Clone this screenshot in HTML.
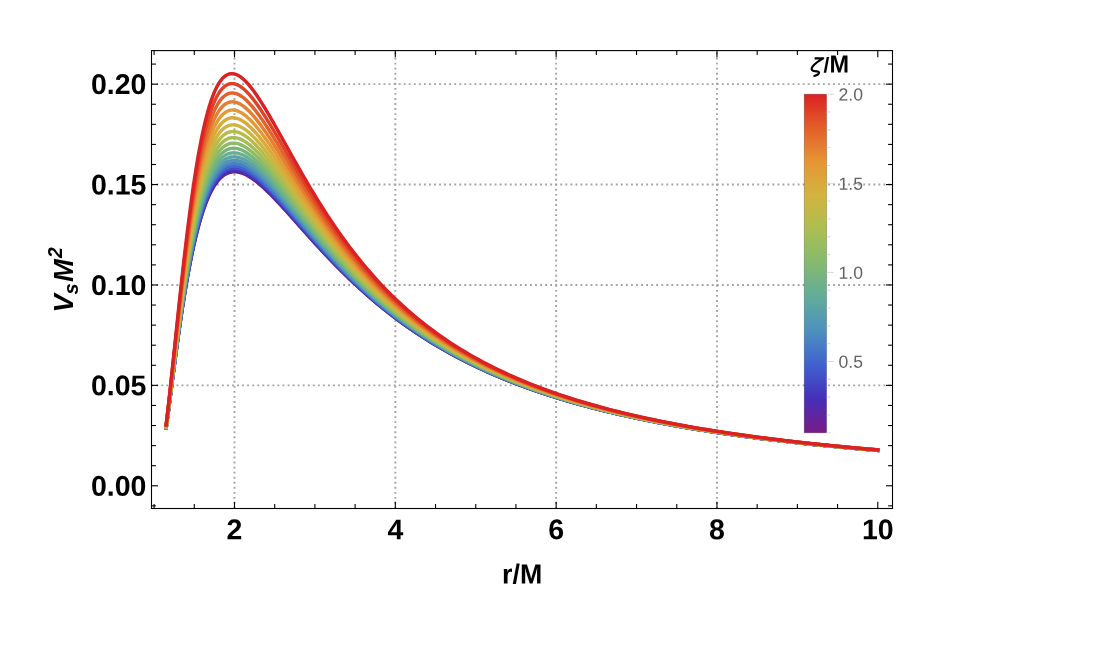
<!DOCTYPE html>
<html><head><meta charset="utf-8"><title>Vs M^2 vs r/M</title>
<style>
html,body{margin:0;padding:0;background:#fff;}
body{width:1096px;height:645px;overflow:hidden;font-family:"Liberation Sans",sans-serif;}
svg{display:block;will-change:transform;}
text{font-family:"Liberation Sans",sans-serif;}
.b{font-weight:bold;}
.bi{font-weight:bold;font-style:italic;}
.r{font-weight:normal;}
</style></head>
<body>
<svg width="1096" height="645" viewBox="0 0 1096 645">
<rect width="1096" height="645" fill="#fff"/>
<g stroke="#a4a4a4" stroke-width="1.9" stroke-dasharray="1.9 3.15" fill="none"><line x1="234.50" y1="508.95" x2="234.50" y2="50.6"/><line x1="395.32" y1="508.95" x2="395.32" y2="50.6"/><line x1="556.14" y1="508.95" x2="556.14" y2="50.6"/><line x1="716.96" y1="508.95" x2="716.96" y2="50.6"/><line x1="151.23" y1="385.37" x2="892.5" y2="385.37"/><line x1="151.23" y1="284.97" x2="892.5" y2="284.97"/><line x1="151.23" y1="184.57" x2="892.5" y2="184.57"/><line x1="151.23" y1="84.17" x2="892.5" y2="84.17"/></g>
<g fill="none" stroke-width="3.4" stroke-linecap="square" stroke-linejoin="round"><path d="M166.15 428.24 L167.34 419.32 L168.53 410.24 L169.72 401.05 L170.91 391.82 L172.09 382.60 L173.28 373.44 L174.47 364.36 L175.66 355.40 L176.85 346.60 L178.04 337.97 L179.22 329.53 L180.41 321.30 L181.60 313.29 L182.79 305.52 L183.98 297.99 L185.17 290.71 L186.36 283.68 L187.54 276.90 L188.73 270.38 L189.92 264.11 L191.11 258.10 L192.30 252.34 L193.49 246.83 L194.67 241.57 L195.86 236.55 L197.05 231.77 L198.24 227.23 L199.43 222.91 L200.62 218.81 L201.80 214.93 L202.99 211.27 L204.18 207.81 L205.37 204.55 L206.56 201.48 L207.75 198.60 L208.94 195.91 L210.12 193.39 L211.31 191.04 L212.50 188.86 L213.69 186.83 L214.88 184.96 L216.07 183.24 L217.25 181.66 L218.44 180.22 L219.63 178.90 L220.82 177.72 L222.01 176.66 L223.20 175.72 L224.39 174.88 L225.57 174.16 L226.76 173.54 L227.95 173.03 L229.14 172.60 L230.33 172.27 L231.52 172.03 L232.70 171.87 L233.89 171.79 L235.08 171.79 L236.27 171.87 L237.46 172.01 L238.65 172.22 L239.84 172.50 L241.02 172.84 L242.21 173.23 L243.40 173.69 L244.59 174.19 L245.78 174.75 L246.97 175.36 L248.15 176.01 L249.34 176.70 L250.53 177.44 L251.72 178.22 L252.91 179.04 L254.10 179.89 L255.29 180.77 L256.47 181.69 L257.66 182.64 L258.85 183.62 L260.04 184.62 L261.23 185.65 L262.42 186.71 L263.60 187.79 L264.79 188.89 L265.98 190.01 L267.17 191.15 L268.36 192.31 L269.55 193.48 L270.74 194.67 L271.92 195.88 L273.11 197.10 L274.30 198.33 L275.49 199.57 L276.68 200.83 L277.87 202.09 L279.05 203.37 L280.24 204.65 L281.43 205.94 L282.62 207.24 L283.81 208.54 L285.00 209.85 L286.18 211.17 L287.37 212.48 L288.56 213.81 L289.75 215.14 L290.94 216.47 L292.13 217.80 L293.32 219.13 L294.50 220.47 L295.69 221.80 L296.88 223.14 L298.07 224.48 L299.26 225.82 L300.45 227.15 L301.63 228.49 L302.82 229.82 L304.01 231.15 L305.20 232.49 L306.39 233.81 L307.58 235.14 L308.77 236.47 L309.95 237.79 L311.14 239.10 L312.33 240.42 L313.52 241.73 L314.71 243.04 L315.90 244.34 L317.08 245.64 L318.27 246.93 L319.46 248.22 L320.65 249.51 L321.84 250.79 L323.03 252.06 L324.22 253.33 L325.40 254.60 L326.59 255.86 L327.78 257.11 L328.97 258.36 L330.16 259.60 L331.35 260.84 L332.53 262.07 L333.72 263.30 L334.91 264.52 L336.10 265.73 L337.29 266.94 L338.48 268.14 L339.67 269.34 L340.85 270.53 L342.04 271.71 L343.23 272.89 L344.42 274.06 L345.61 275.22 L346.80 276.38 L347.98 277.53 L349.17 278.67 L350.36 279.81 L351.55 280.94 L352.74 282.06 L353.93 283.18 L355.12 284.29 L359.51 288.34 L363.90 292.30 L368.29 296.17 L372.68 299.95 L377.08 303.65 L381.47 307.25 L385.86 310.77 L390.25 314.20 L394.64 317.55 L399.04 320.82 L403.43 324.01 L407.82 327.12 L412.21 330.15 L416.61 333.11 L421.00 335.99 L425.39 338.80 L429.78 341.55 L434.17 344.22 L438.57 346.83 L442.96 349.37 L447.35 351.85 L451.74 354.27 L456.13 356.64 L460.53 358.94 L464.92 361.19 L469.31 363.38 L473.70 365.52 L478.09 367.61 L482.49 369.64 L486.88 371.63 L491.27 373.58 L495.66 375.47 L500.06 377.32 L504.45 379.13 L508.84 380.90 L513.23 382.62 L517.62 384.30 L522.02 385.95 L526.41 387.56 L530.80 389.13 L535.19 390.67 L539.59 392.17 L543.98 393.63 L548.37 395.07 L552.76 396.47 L557.15 397.84 L561.55 399.19 L565.94 400.50 L570.33 401.78 L574.72 403.04 L579.11 404.27 L583.51 405.47 L587.90 406.65 L592.29 407.80 L596.68 408.93 L601.08 410.04 L605.47 411.12 L609.86 412.18 L614.25 413.22 L618.64 414.24 L623.04 415.23 L627.43 416.21 L631.82 417.17 L636.21 418.10 L640.60 419.02 L645.00 419.93 L649.39 420.81 L653.78 421.68 L658.17 422.52 L662.57 423.36 L666.96 424.18 L671.35 424.98 L675.74 425.76 L680.13 426.54 L684.53 427.29 L688.92 428.04 L693.31 428.76 L697.70 429.48 L702.09 430.18 L706.49 430.87 L710.88 431.55 L715.27 432.22 L719.66 432.87 L724.05 433.51 L728.45 434.14 L732.84 434.76 L737.23 435.37 L741.62 435.97 L746.02 436.55 L750.41 437.13 L754.80 437.70 L759.19 438.26 L763.58 438.80 L767.98 439.34 L772.37 439.87 L776.76 440.39 L781.15 440.91 L785.54 441.41 L789.94 441.90 L794.33 442.39 L798.72 442.87 L803.11 443.34 L807.51 443.81 L811.90 444.26 L816.29 444.71 L820.68 445.15 L825.07 445.59 L829.47 446.02 L833.86 446.44 L838.25 446.85 L842.64 447.26 L847.03 447.66 L851.43 448.06 L855.82 448.45 L860.21 448.83 L864.60 449.21 L869.00 449.58 L873.39 449.95 L877.78 450.31" stroke="#781c86"/><path d="M166.15 428.21 L167.34 419.29 L168.53 410.19 L169.72 401.00 L170.91 391.75 L172.09 382.52 L173.28 373.34 L174.47 364.24 L175.66 355.27 L176.85 346.44 L178.04 337.79 L179.22 329.33 L180.41 321.08 L181.60 313.06 L182.79 305.26 L183.98 297.71 L185.17 290.41 L186.36 283.35 L187.54 276.56 L188.73 270.01 L189.92 263.73 L191.11 257.70 L192.30 251.92 L193.49 246.39 L194.67 241.11 L195.86 236.07 L197.05 231.27 L198.24 226.71 L199.43 222.38 L200.62 218.27 L201.80 214.37 L202.99 210.69 L204.18 207.22 L205.37 203.95 L206.56 200.87 L207.75 197.98 L208.94 195.27 L210.12 192.75 L211.31 190.39 L212.50 188.20 L213.69 186.16 L214.88 184.29 L216.07 182.56 L217.25 180.97 L218.44 179.52 L219.63 178.21 L220.82 177.02 L222.01 175.96 L223.20 175.01 L224.39 174.18 L225.57 173.45 L226.76 172.83 L227.95 172.32 L229.14 171.89 L230.33 171.56 L231.52 171.32 L232.70 171.16 L233.89 171.09 L235.08 171.09 L236.27 171.16 L237.46 171.31 L238.65 171.53 L239.84 171.80 L241.02 172.15 L242.21 172.55 L243.40 173.00 L244.59 173.51 L245.78 174.07 L246.97 174.68 L248.15 175.34 L249.34 176.04 L250.53 176.78 L251.72 177.57 L252.91 178.39 L254.10 179.24 L255.29 180.14 L256.47 181.06 L257.66 182.01 L258.85 183.00 L260.04 184.01 L261.23 185.04 L262.42 186.10 L263.60 187.19 L264.79 188.29 L265.98 189.42 L267.17 190.57 L268.36 191.73 L269.55 192.91 L270.74 194.11 L271.92 195.32 L273.11 196.54 L274.30 197.78 L275.49 199.03 L276.68 200.29 L277.87 201.56 L279.05 202.84 L280.24 204.13 L281.43 205.43 L282.62 206.73 L283.81 208.04 L285.00 209.36 L286.18 210.68 L287.37 212.00 L288.56 213.33 L289.75 214.67 L290.94 216.00 L292.13 217.34 L293.32 218.68 L294.50 220.02 L295.69 221.36 L296.88 222.70 L298.07 224.05 L299.26 225.39 L300.45 226.73 L301.63 228.07 L302.82 229.41 L304.01 230.75 L305.20 232.09 L306.39 233.42 L307.58 234.75 L308.77 236.08 L309.95 237.41 L311.14 238.73 L312.33 240.05 L313.52 241.36 L314.71 242.68 L315.90 243.98 L317.08 245.29 L318.27 246.59 L319.46 247.88 L320.65 249.17 L321.84 250.45 L323.03 251.73 L324.22 253.01 L325.40 254.28 L326.59 255.54 L327.78 256.80 L328.97 258.05 L330.16 259.30 L331.35 260.54 L332.53 261.78 L333.72 263.01 L334.91 264.23 L336.10 265.45 L337.29 266.66 L338.48 267.87 L339.67 269.06 L340.85 270.26 L342.04 271.44 L343.23 272.62 L344.42 273.80 L345.61 274.96 L346.80 276.12 L347.98 277.28 L349.17 278.43 L350.36 279.57 L351.55 280.70 L352.74 281.83 L353.93 282.95 L355.12 284.06 L359.51 288.12 L363.90 292.09 L368.29 295.97 L372.68 299.76 L377.08 303.47 L381.47 307.08 L385.86 310.60 L390.25 314.05 L394.64 317.40 L399.04 320.68 L403.43 323.87 L407.82 326.99 L412.21 330.02 L416.61 332.99 L421.00 335.88 L425.39 338.69 L429.78 341.44 L434.17 344.12 L438.57 346.73 L442.96 349.28 L447.35 351.77 L451.74 354.19 L456.13 356.56 L460.53 358.86 L464.92 361.11 L469.31 363.31 L473.70 365.45 L478.09 367.54 L482.49 369.58 L486.88 371.57 L491.27 373.52 L495.66 375.42 L500.06 377.27 L504.45 379.08 L508.84 380.85 L513.23 382.57 L517.62 384.26 L522.02 385.91 L526.41 387.52 L530.80 389.09 L535.19 390.63 L539.59 392.13 L543.98 393.60 L548.37 395.03 L552.76 396.44 L557.15 397.81 L561.55 399.16 L565.94 400.47 L570.33 401.75 L574.72 403.01 L579.11 404.24 L583.51 405.45 L587.90 406.63 L592.29 407.78 L596.68 408.91 L601.08 410.02 L605.47 411.10 L609.86 412.16 L614.25 413.20 L618.64 414.22 L623.04 415.21 L627.43 416.19 L631.82 417.15 L636.21 418.09 L640.60 419.01 L645.00 419.91 L649.39 420.79 L653.78 421.66 L658.17 422.51 L662.57 423.34 L666.96 424.16 L671.35 424.96 L675.74 425.75 L680.13 426.52 L684.53 427.28 L688.92 428.02 L693.31 428.75 L697.70 429.47 L702.09 430.17 L706.49 430.86 L710.88 431.54 L715.27 432.21 L719.66 432.86 L724.05 433.50 L728.45 434.13 L732.84 434.75 L737.23 435.36 L741.62 435.96 L746.02 436.55 L750.41 437.12 L754.80 437.69 L759.19 438.25 L763.58 438.80 L767.98 439.34 L772.37 439.87 L776.76 440.39 L781.15 440.90 L785.54 441.40 L789.94 441.90 L794.33 442.39 L798.72 442.87 L803.11 443.34 L807.51 443.80 L811.90 444.26 L816.29 444.71 L820.68 445.15 L825.07 445.58 L829.47 446.01 L833.86 446.43 L838.25 446.85 L842.64 447.26 L847.03 447.66 L851.43 448.06 L855.82 448.45 L860.21 448.83 L864.60 449.21 L869.00 449.58 L873.39 449.95 L877.78 450.31" stroke="#5e26a1"/><path d="M166.15 428.17 L167.34 419.23 L168.53 410.12 L169.72 400.90 L170.91 391.64 L172.09 382.38 L173.28 373.17 L174.47 364.04 L175.66 355.04 L176.85 346.19 L178.04 337.50 L179.22 329.01 L180.41 320.73 L181.60 312.66 L182.79 304.83 L183.98 297.25 L185.17 289.91 L186.36 282.82 L187.54 275.98 L188.73 269.41 L189.92 263.08 L191.11 257.02 L192.30 251.21 L193.49 245.65 L194.67 240.34 L195.86 235.27 L197.05 230.44 L198.24 225.85 L199.43 221.49 L200.62 217.35 L201.80 213.44 L202.99 209.73 L204.18 206.24 L205.37 202.94 L206.56 199.85 L207.75 196.94 L208.94 194.22 L210.12 191.67 L211.31 189.30 L212.50 187.09 L213.69 185.05 L214.88 183.16 L216.07 181.42 L217.25 179.83 L218.44 178.37 L219.63 177.05 L220.82 175.85 L222.01 174.78 L223.20 173.83 L224.39 173.00 L225.57 172.27 L226.76 171.65 L227.95 171.13 L229.14 170.71 L230.33 170.38 L231.52 170.14 L232.70 169.98 L233.89 169.91 L235.08 169.91 L236.27 169.99 L237.46 170.14 L238.65 170.36 L239.84 170.64 L241.02 170.99 L242.21 171.40 L243.40 171.86 L244.59 172.38 L245.78 172.94 L246.97 173.56 L248.15 174.23 L249.34 174.93 L250.53 175.68 L251.72 176.48 L252.91 177.31 L254.10 178.17 L255.29 179.07 L256.47 180.00 L257.66 180.97 L258.85 181.96 L260.04 182.98 L261.23 184.02 L262.42 185.10 L263.60 186.19 L264.79 187.31 L265.98 188.44 L267.17 189.60 L268.36 190.77 L269.55 191.96 L270.74 193.17 L271.92 194.39 L273.11 195.62 L274.30 196.87 L275.49 198.13 L276.68 199.40 L277.87 200.68 L279.05 201.97 L280.24 203.27 L281.43 204.58 L282.62 205.89 L283.81 207.21 L285.00 208.54 L286.18 209.87 L287.37 211.20 L288.56 212.54 L289.75 213.88 L290.94 215.23 L292.13 216.58 L293.32 217.92 L294.50 219.28 L295.69 220.63 L296.88 221.98 L298.07 223.33 L299.26 224.68 L300.45 226.03 L301.63 227.38 L302.82 228.73 L304.01 230.08 L305.20 231.42 L306.39 232.76 L307.58 234.10 L308.77 235.44 L309.95 236.78 L311.14 238.11 L312.33 239.43 L313.52 240.76 L314.71 242.08 L315.90 243.39 L317.08 244.70 L318.27 246.01 L319.46 247.31 L320.65 248.61 L321.84 249.90 L323.03 251.19 L324.22 252.47 L325.40 253.75 L326.59 255.02 L327.78 256.28 L328.97 257.54 L330.16 258.80 L331.35 260.04 L332.53 261.29 L333.72 262.52 L334.91 263.75 L336.10 264.98 L337.29 266.19 L338.48 267.40 L339.67 268.61 L340.85 269.81 L342.04 271.00 L343.23 272.19 L344.42 273.37 L345.61 274.54 L346.80 275.70 L347.98 276.86 L349.17 278.02 L350.36 279.16 L351.55 280.30 L352.74 281.43 L353.93 282.56 L355.12 283.68 L359.51 287.76 L363.90 291.75 L368.29 295.64 L372.68 299.45 L377.08 303.16 L381.47 306.79 L385.86 310.33 L390.25 313.78 L394.64 317.15 L399.04 320.44 L403.43 323.64 L407.82 326.77 L412.21 329.82 L416.61 332.79 L421.00 335.69 L425.39 338.51 L429.78 341.27 L434.17 343.95 L438.57 346.57 L442.96 349.13 L447.35 351.62 L451.74 354.05 L456.13 356.42 L460.53 358.73 L464.92 360.99 L469.31 363.19 L473.70 365.34 L478.09 367.43 L482.49 369.48 L486.88 371.47 L491.27 373.42 L495.66 375.32 L500.06 377.18 L504.45 378.99 L508.84 380.77 L513.23 382.50 L517.62 384.18 L522.02 385.83 L526.41 387.45 L530.80 389.02 L535.19 390.56 L539.59 392.07 L543.98 393.54 L548.37 394.98 L552.76 396.38 L557.15 397.76 L561.55 399.10 L565.94 400.42 L570.33 401.71 L574.72 402.97 L579.11 404.20 L583.51 405.40 L587.90 406.58 L592.29 407.74 L596.68 408.87 L601.08 409.98 L605.47 411.06 L609.86 412.13 L614.25 413.17 L618.64 414.18 L623.04 415.18 L627.43 416.16 L631.82 417.12 L636.21 418.06 L640.60 418.98 L645.00 419.88 L649.39 420.77 L653.78 421.64 L658.17 422.49 L662.57 423.32 L666.96 424.14 L671.35 424.94 L675.74 425.73 L680.13 426.50 L684.53 427.26 L688.92 428.00 L693.31 428.73 L697.70 429.45 L702.09 430.16 L706.49 430.85 L710.88 431.52 L715.27 432.19 L719.66 432.84 L724.05 433.49 L728.45 434.12 L732.84 434.74 L737.23 435.35 L741.62 435.94 L746.02 436.53 L750.41 437.11 L754.80 437.68 L759.19 438.24 L763.58 438.79 L767.98 439.32 L772.37 439.85 L776.76 440.38 L781.15 440.89 L785.54 441.39 L789.94 441.89 L794.33 442.38 L798.72 442.86 L803.11 443.33 L807.51 443.79 L811.90 444.25 L816.29 444.70 L820.68 445.14 L825.07 445.58 L829.47 446.00 L833.86 446.43 L838.25 446.84 L842.64 447.25 L847.03 447.65 L851.43 448.05 L855.82 448.44 L860.21 448.82 L864.60 449.20 L869.00 449.57 L873.39 449.94 L877.78 450.30" stroke="#4631bb"/><path d="M166.15 428.11 L167.34 419.15 L168.53 410.01 L169.72 400.77 L170.91 391.47 L172.09 382.18 L173.28 372.93 L174.47 363.77 L175.66 354.72 L176.85 345.82 L178.04 337.09 L179.22 328.56 L180.41 320.22 L181.60 312.11 L182.79 304.23 L183.98 296.59 L185.17 289.20 L186.36 282.06 L187.54 275.18 L188.73 268.55 L189.92 262.18 L191.11 256.07 L192.30 250.21 L193.49 244.61 L194.67 239.25 L195.86 234.14 L197.05 229.28 L198.24 224.64 L199.43 220.24 L200.62 216.07 L201.80 212.12 L202.99 208.38 L204.18 204.86 L205.37 201.54 L206.56 198.41 L207.75 195.48 L208.94 192.73 L210.12 190.16 L211.31 187.77 L212.50 185.55 L213.69 183.49 L214.88 181.58 L216.07 179.83 L217.25 178.22 L218.44 176.75 L219.63 175.42 L220.82 174.22 L222.01 173.14 L223.20 172.19 L224.39 171.34 L225.57 170.61 L226.76 169.99 L227.95 169.47 L229.14 169.05 L230.33 168.72 L231.52 168.48 L232.70 168.32 L233.89 168.25 L235.08 168.26 L236.27 168.35 L237.46 168.50 L238.65 168.73 L239.84 169.02 L241.02 169.37 L242.21 169.79 L243.40 170.26 L244.59 170.78 L245.78 171.36 L246.97 171.99 L248.15 172.66 L249.34 173.38 L250.53 174.14 L251.72 174.95 L252.91 175.79 L254.10 176.67 L255.29 177.58 L256.47 178.52 L257.66 179.50 L258.85 180.50 L260.04 181.54 L261.23 182.60 L262.42 183.68 L263.60 184.79 L264.79 185.92 L265.98 187.07 L267.17 188.24 L268.36 189.43 L269.55 190.63 L270.74 191.85 L271.92 193.09 L273.11 194.34 L274.30 195.60 L275.49 196.87 L276.68 198.16 L277.87 199.45 L279.05 200.75 L280.24 202.07 L281.43 203.39 L282.62 204.71 L283.81 206.05 L285.00 207.39 L286.18 208.73 L287.37 210.08 L288.56 211.43 L289.75 212.79 L290.94 214.15 L292.13 215.51 L293.32 216.87 L294.50 218.23 L295.69 219.60 L296.88 220.96 L298.07 222.33 L299.26 223.69 L300.45 225.05 L301.63 226.41 L302.82 227.78 L304.01 229.13 L305.20 230.49 L306.39 231.85 L307.58 233.20 L308.77 234.55 L309.95 235.89 L311.14 237.23 L312.33 238.57 L313.52 239.91 L314.71 241.24 L315.90 242.56 L317.08 243.88 L318.27 245.20 L319.46 246.51 L320.65 247.82 L321.84 249.12 L323.03 250.42 L324.22 251.71 L325.40 253.00 L326.59 254.28 L327.78 255.55 L328.97 256.82 L330.16 258.09 L331.35 259.34 L332.53 260.60 L333.72 261.84 L334.91 263.08 L336.10 264.31 L337.29 265.54 L338.48 266.76 L339.67 267.97 L340.85 269.18 L342.04 270.38 L343.23 271.57 L344.42 272.76 L345.61 273.94 L346.80 275.12 L347.98 276.28 L349.17 277.44 L350.36 278.60 L351.55 279.74 L352.74 280.88 L353.93 282.02 L355.12 283.14 L359.51 287.25 L363.90 291.26 L368.29 295.18 L372.68 299.01 L377.08 302.74 L381.47 306.39 L385.86 309.95 L390.25 313.42 L394.64 316.80 L399.04 320.11 L403.43 323.33 L407.82 326.46 L412.21 329.53 L416.61 332.51 L421.00 335.42 L425.39 338.26 L429.78 341.03 L434.17 343.72 L438.57 346.35 L442.96 348.92 L447.35 351.42 L451.74 353.86 L456.13 356.24 L460.53 358.56 L464.92 360.82 L469.31 363.03 L473.70 365.18 L478.09 367.28 L482.49 369.33 L486.88 371.34 L491.27 373.29 L495.66 375.20 L500.06 377.06 L504.45 378.88 L508.84 380.65 L513.23 382.39 L517.62 384.08 L522.02 385.73 L526.41 387.35 L530.80 388.93 L535.19 390.47 L539.59 391.98 L543.98 393.46 L548.37 394.90 L552.76 396.31 L557.15 397.68 L561.55 399.03 L565.94 400.35 L570.33 401.64 L574.72 402.90 L579.11 404.14 L583.51 405.34 L587.90 406.53 L592.29 407.68 L596.68 408.82 L601.08 409.93 L605.47 411.01 L609.86 412.08 L614.25 413.12 L618.64 414.14 L623.04 415.14 L627.43 416.12 L631.82 417.08 L636.21 418.02 L640.60 418.94 L645.00 419.85 L649.39 420.73 L653.78 421.60 L658.17 422.45 L662.57 423.29 L666.96 424.11 L671.35 424.91 L675.74 425.70 L680.13 426.47 L684.53 427.23 L688.92 427.98 L693.31 428.71 L697.70 429.43 L702.09 430.13 L706.49 430.82 L710.88 431.50 L715.27 432.17 L719.66 432.82 L724.05 433.47 L728.45 434.10 L732.84 434.72 L737.23 435.33 L741.62 435.93 L746.02 436.51 L750.41 437.09 L754.80 437.66 L759.19 438.22 L763.58 438.77 L767.98 439.31 L772.37 439.84 L776.76 440.36 L781.15 440.87 L785.54 441.38 L789.94 441.87 L794.33 442.36 L798.72 442.84 L803.11 443.31 L807.51 443.78 L811.90 444.24 L816.29 444.69 L820.68 445.13 L825.07 445.56 L829.47 445.99 L833.86 446.42 L838.25 446.83 L842.64 447.24 L847.03 447.64 L851.43 448.04 L855.82 448.43 L860.21 448.81 L864.60 449.19 L869.00 449.56 L873.39 449.93 L877.78 450.29" stroke="#434cc6"/><path d="M166.15 428.03 L167.34 419.04 L168.53 409.87 L169.72 400.59 L170.91 391.26 L172.09 381.92 L173.28 372.63 L174.47 363.41 L175.66 354.32 L176.85 345.36 L178.04 336.57 L179.22 327.97 L180.41 319.58 L181.60 311.40 L182.79 303.46 L183.98 295.76 L185.17 288.30 L186.36 281.10 L187.54 274.15 L188.73 267.46 L189.92 261.03 L191.11 254.85 L192.30 248.93 L193.49 243.27 L194.67 237.86 L195.86 232.69 L197.05 227.77 L198.24 223.09 L199.43 218.64 L200.62 214.42 L201.80 210.43 L202.99 206.65 L204.18 203.08 L205.37 199.72 L206.56 196.56 L207.75 193.60 L208.94 190.82 L210.12 188.22 L211.31 185.80 L212.50 183.56 L213.69 181.47 L214.88 179.55 L216.07 177.77 L217.25 176.15 L218.44 174.67 L219.63 173.32 L220.82 172.11 L222.01 171.03 L223.20 170.06 L224.39 169.21 L225.57 168.48 L226.76 167.85 L227.95 167.33 L229.14 166.91 L230.33 166.58 L231.52 166.34 L232.70 166.19 L233.89 166.12 L235.08 166.14 L236.27 166.23 L237.46 166.39 L238.65 166.63 L239.84 166.93 L241.02 167.29 L242.21 167.71 L243.40 168.20 L244.59 168.73 L245.78 169.32 L246.97 169.96 L248.15 170.65 L249.34 171.39 L250.53 172.16 L251.72 172.98 L252.91 173.84 L254.10 174.73 L255.29 175.66 L256.47 176.62 L257.66 177.61 L258.85 178.63 L260.04 179.68 L261.23 180.76 L262.42 181.86 L263.60 182.99 L264.79 184.13 L265.98 185.30 L267.17 186.49 L268.36 187.70 L269.55 188.92 L270.74 190.16 L271.92 191.41 L273.11 192.68 L274.30 193.96 L275.49 195.25 L276.68 196.55 L277.87 197.86 L279.05 199.19 L280.24 200.52 L281.43 201.85 L282.62 203.20 L283.81 204.55 L285.00 205.91 L286.18 207.27 L287.37 208.64 L288.56 210.01 L289.75 211.38 L290.94 212.75 L292.13 214.13 L293.32 215.51 L294.50 216.89 L295.69 218.27 L296.88 219.65 L298.07 221.03 L299.26 222.41 L300.45 223.79 L301.63 225.17 L302.82 226.55 L304.01 227.92 L305.20 229.29 L306.39 230.66 L307.58 232.03 L308.77 233.39 L309.95 234.75 L311.14 236.11 L312.33 237.46 L313.52 238.81 L314.71 240.16 L315.90 241.50 L317.08 242.83 L318.27 244.16 L319.46 245.49 L320.65 246.81 L321.84 248.13 L323.03 249.44 L324.22 250.74 L325.40 252.04 L326.59 253.33 L327.78 254.62 L328.97 255.90 L330.16 257.18 L331.35 258.45 L332.53 259.71 L333.72 260.97 L334.91 262.22 L336.10 263.46 L337.29 264.70 L338.48 265.93 L339.67 267.15 L340.85 268.37 L342.04 269.58 L343.23 270.79 L344.42 271.98 L345.61 273.17 L346.80 274.36 L347.98 275.54 L349.17 276.71 L350.36 277.87 L351.55 279.03 L352.74 280.18 L353.93 281.32 L355.12 282.45 L359.51 286.59 L363.90 290.63 L368.29 294.58 L372.68 298.44 L377.08 302.20 L381.47 305.87 L385.86 309.45 L390.25 312.95 L394.64 316.35 L399.04 319.68 L403.43 322.92 L407.82 326.07 L412.21 329.15 L416.61 332.15 L421.00 335.08 L425.39 337.93 L429.78 340.71 L434.17 343.42 L438.57 346.07 L442.96 348.64 L447.35 351.16 L451.74 353.61 L456.13 356.00 L460.53 358.33 L464.92 360.60 L469.31 362.82 L473.70 364.98 L478.09 367.09 L482.49 369.15 L486.88 371.16 L491.27 373.12 L495.66 375.03 L500.06 376.90 L504.45 378.72 L508.84 380.51 L513.23 382.25 L517.62 383.94 L522.02 385.60 L526.41 387.23 L530.80 388.81 L535.19 390.36 L539.59 391.87 L543.98 393.35 L548.37 394.79 L552.76 396.21 L557.15 397.59 L561.55 398.94 L565.94 400.26 L570.33 401.55 L574.72 402.82 L579.11 404.06 L583.51 405.27 L587.90 406.45 L592.29 407.61 L596.68 408.75 L601.08 409.86 L605.47 410.95 L609.86 412.01 L614.25 413.06 L618.64 414.08 L623.04 415.08 L627.43 416.06 L631.82 417.03 L636.21 417.97 L640.60 418.89 L645.00 419.80 L649.39 420.68 L653.78 421.55 L658.17 422.41 L662.57 423.25 L666.96 424.07 L671.35 424.87 L675.74 425.66 L680.13 426.44 L684.53 427.20 L688.92 427.94 L693.31 428.67 L697.70 429.39 L702.09 430.10 L706.49 430.79 L710.88 431.47 L715.27 432.14 L719.66 432.79 L724.05 433.44 L728.45 434.07 L732.84 434.69 L737.23 435.30 L741.62 435.90 L746.02 436.49 L750.41 437.07 L754.80 437.64 L759.19 438.20 L763.58 438.75 L767.98 439.29 L772.37 439.82 L776.76 440.34 L781.15 440.85 L785.54 441.36 L789.94 441.86 L794.33 442.34 L798.72 442.83 L803.11 443.30 L807.51 443.76 L811.90 444.22 L816.29 444.67 L820.68 445.11 L825.07 445.55 L829.47 445.98 L833.86 446.40 L838.25 446.82 L842.64 447.23 L847.03 447.63 L851.43 448.03 L855.82 448.42 L860.21 448.80 L864.60 449.18 L869.00 449.55 L873.39 449.92 L877.78 450.28" stroke="#4166cd"/><path d="M166.15 427.93 L167.34 418.91 L168.53 409.71 L169.72 400.38 L170.91 391.00 L172.09 381.61 L173.28 372.26 L174.47 362.98 L175.66 353.82 L176.85 344.79 L178.04 335.93 L179.22 327.26 L180.41 318.79 L181.60 310.53 L182.79 302.51 L183.98 294.73 L185.17 287.19 L186.36 279.91 L187.54 272.88 L188.73 266.12 L189.92 259.61 L191.11 253.36 L192.30 247.37 L193.49 241.63 L194.67 236.15 L195.86 230.92 L197.05 225.93 L198.24 221.19 L199.43 216.68 L200.62 212.40 L201.80 208.35 L202.99 204.52 L204.18 200.91 L205.37 197.50 L206.56 194.30 L207.75 191.29 L208.94 188.48 L210.12 185.85 L211.31 183.39 L212.50 181.12 L213.69 179.00 L214.88 177.05 L216.07 175.26 L217.25 173.62 L218.44 172.12 L219.63 170.76 L220.82 169.53 L222.01 168.43 L223.20 167.46 L224.39 166.60 L225.57 165.86 L226.76 165.23 L227.95 164.71 L229.14 164.29 L230.33 163.96 L231.52 163.72 L232.70 163.58 L233.89 163.52 L235.08 163.54 L236.27 163.63 L237.46 163.81 L238.65 164.05 L239.84 164.36 L241.02 164.74 L242.21 165.17 L243.40 165.67 L244.59 166.22 L245.78 166.83 L246.97 167.48 L248.15 168.19 L249.34 168.94 L250.53 169.73 L251.72 170.57 L252.91 171.45 L254.10 172.36 L255.29 173.31 L256.47 174.29 L257.66 175.30 L258.85 176.34 L260.04 177.41 L261.23 178.51 L262.42 179.63 L263.60 180.78 L264.79 181.95 L265.98 183.14 L267.17 184.35 L268.36 185.58 L269.55 186.82 L270.74 188.08 L271.92 189.36 L273.11 190.65 L274.30 191.95 L275.49 193.26 L276.68 194.59 L277.87 195.92 L279.05 197.27 L280.24 198.62 L281.43 199.98 L282.62 201.35 L283.81 202.72 L285.00 204.10 L286.18 205.48 L287.37 206.87 L288.56 208.26 L289.75 209.65 L290.94 211.05 L292.13 212.45 L293.32 213.85 L294.50 215.25 L295.69 216.65 L296.88 218.05 L298.07 219.45 L299.26 220.85 L300.45 222.25 L301.63 223.65 L302.82 225.04 L304.01 226.44 L305.20 227.83 L306.39 229.22 L307.58 230.60 L308.77 231.98 L309.95 233.36 L311.14 234.74 L312.33 236.11 L313.52 237.48 L314.71 238.84 L315.90 240.19 L317.08 241.55 L318.27 242.89 L319.46 244.24 L320.65 245.57 L321.84 246.91 L323.03 248.23 L324.22 249.55 L325.40 250.87 L326.59 252.18 L327.78 253.48 L328.97 254.77 L330.16 256.06 L331.35 257.35 L332.53 258.63 L333.72 259.90 L334.91 261.16 L336.10 262.42 L337.29 263.67 L338.48 264.92 L339.67 266.15 L340.85 267.38 L342.04 268.61 L343.23 269.82 L344.42 271.04 L345.61 272.24 L346.80 273.43 L347.98 274.62 L349.17 275.81 L350.36 276.98 L351.55 278.15 L352.74 279.31 L353.93 280.46 L355.12 281.61 L359.51 285.79 L363.90 289.87 L368.29 293.85 L372.68 297.74 L377.08 301.54 L381.47 305.24 L385.86 308.85 L390.25 312.37 L394.64 315.81 L399.04 319.15 L403.43 322.42 L407.82 325.60 L412.21 328.70 L416.61 331.72 L421.00 334.67 L425.39 337.54 L429.78 340.33 L434.17 343.06 L438.57 345.72 L442.96 348.31 L447.35 350.84 L451.74 353.30 L456.13 355.70 L460.53 358.05 L464.92 360.33 L469.31 362.56 L473.70 364.73 L478.09 366.85 L482.49 368.92 L486.88 370.94 L491.27 372.91 L495.66 374.83 L500.06 376.71 L504.45 378.54 L508.84 380.33 L513.23 382.07 L517.62 383.78 L522.02 385.45 L526.41 387.07 L530.80 388.66 L535.19 390.22 L539.59 391.73 L543.98 393.22 L548.37 394.67 L552.76 396.09 L557.15 397.47 L561.55 398.83 L565.94 400.15 L570.33 401.45 L574.72 402.72 L579.11 403.96 L583.51 405.17 L587.90 406.36 L592.29 407.52 L596.68 408.66 L601.08 409.78 L605.47 410.87 L609.86 411.94 L614.25 412.98 L618.64 414.01 L623.04 415.01 L627.43 416.00 L631.82 416.96 L636.21 417.91 L640.60 418.83 L645.00 419.74 L649.39 420.63 L653.78 421.50 L658.17 422.36 L662.57 423.19 L666.96 424.02 L671.35 424.82 L675.74 425.61 L680.13 426.39 L684.53 427.15 L688.92 427.90 L693.31 428.63 L697.70 429.35 L702.09 430.06 L706.49 430.75 L710.88 431.43 L715.27 432.10 L719.66 432.76 L724.05 433.40 L728.45 434.04 L732.84 434.66 L737.23 435.27 L741.62 435.87 L746.02 436.46 L750.41 437.04 L754.80 437.61 L759.19 438.17 L763.58 438.72 L767.98 439.26 L772.37 439.79 L776.76 440.32 L781.15 440.83 L785.54 441.34 L789.94 441.83 L794.33 442.32 L798.72 442.80 L803.11 443.28 L807.51 443.74 L811.90 444.20 L816.29 444.65 L820.68 445.10 L825.07 445.53 L829.47 445.96 L833.86 446.38 L838.25 446.80 L842.64 447.21 L847.03 447.61 L851.43 448.01 L855.82 448.40 L860.21 448.79 L864.60 449.17 L869.00 449.54 L873.39 449.91 L877.78 450.27" stroke="#487fc5"/><path d="M166.15 427.82 L167.34 418.76 L168.53 409.51 L169.72 400.13 L170.91 390.69 L172.09 381.24 L173.28 371.82 L174.47 362.47 L175.66 353.23 L176.85 344.12 L178.04 335.17 L179.22 326.41 L180.41 317.85 L181.60 309.50 L182.79 301.39 L183.98 293.51 L185.17 285.88 L186.36 278.51 L187.54 271.39 L188.73 264.53 L189.92 257.93 L191.11 251.59 L192.30 245.51 L193.49 239.69 L194.67 234.13 L195.86 228.81 L197.05 223.75 L198.24 218.93 L199.43 214.35 L200.62 210.01 L201.80 205.90 L202.99 202.00 L204.18 198.33 L205.37 194.87 L206.56 191.62 L207.75 188.56 L208.94 185.70 L210.12 183.03 L211.31 180.54 L212.50 178.22 L213.69 176.08 L214.88 174.10 L216.07 172.28 L217.25 170.61 L218.44 169.09 L219.63 167.71 L220.82 166.47 L222.01 165.36 L223.20 164.38 L224.39 163.51 L225.57 162.77 L226.76 162.13 L227.95 161.60 L229.14 161.18 L230.33 160.85 L231.52 160.62 L232.70 160.48 L233.89 160.43 L235.08 160.45 L236.27 160.56 L237.46 160.75 L238.65 161.00 L239.84 161.32 L241.02 161.71 L242.21 162.17 L243.40 162.68 L244.59 163.25 L245.78 163.87 L246.97 164.55 L248.15 165.27 L249.34 166.04 L250.53 166.86 L251.72 167.72 L252.91 168.62 L254.10 169.55 L255.29 170.52 L256.47 171.53 L257.66 172.56 L258.85 173.63 L260.04 174.73 L261.23 175.85 L262.42 177.00 L263.60 178.17 L264.79 179.37 L265.98 180.58 L267.17 181.82 L268.36 183.07 L269.55 184.34 L270.74 185.63 L271.92 186.93 L273.11 188.25 L274.30 189.57 L275.49 190.92 L276.68 192.27 L277.87 193.63 L279.05 195.00 L280.24 196.38 L281.43 197.76 L282.62 199.16 L283.81 200.55 L285.00 201.96 L286.18 203.37 L287.37 204.78 L288.56 206.20 L289.75 207.62 L290.94 209.04 L292.13 210.46 L293.32 211.88 L294.50 213.31 L295.69 214.73 L296.88 216.16 L298.07 217.58 L299.26 219.01 L300.45 220.43 L301.63 221.85 L302.82 223.27 L304.01 224.69 L305.20 226.10 L306.39 227.51 L307.58 228.92 L308.77 230.32 L309.95 231.72 L311.14 233.12 L312.33 234.51 L313.52 235.90 L314.71 237.28 L315.90 238.66 L317.08 240.03 L318.27 241.40 L319.46 242.76 L320.65 244.11 L321.84 245.46 L323.03 246.81 L324.22 248.15 L325.40 249.48 L326.59 250.81 L327.78 252.13 L328.97 253.44 L330.16 254.75 L331.35 256.05 L332.53 257.35 L333.72 258.63 L334.91 259.92 L336.10 261.19 L337.29 262.46 L338.48 263.72 L339.67 264.97 L340.85 266.22 L342.04 267.46 L343.23 268.69 L344.42 269.91 L345.61 271.13 L346.80 272.34 L347.98 273.55 L349.17 274.74 L350.36 275.93 L351.55 277.11 L352.74 278.29 L353.93 279.46 L355.12 280.62 L359.51 284.84 L363.90 288.97 L368.29 292.99 L372.68 296.92 L377.08 300.76 L381.47 304.50 L385.86 308.14 L390.25 311.70 L394.64 315.16 L399.04 318.54 L403.43 321.83 L407.82 325.04 L412.21 328.16 L416.61 331.21 L421.00 334.18 L425.39 337.07 L429.78 339.89 L434.17 342.63 L438.57 345.31 L442.96 347.92 L447.35 350.46 L451.74 352.94 L456.13 355.36 L460.53 357.72 L464.92 360.02 L469.31 362.26 L473.70 364.44 L478.09 366.57 L482.49 368.65 L486.88 370.68 L491.27 372.66 L495.66 374.59 L500.06 376.48 L504.45 378.32 L508.84 380.12 L513.23 381.87 L517.62 383.59 L522.02 385.26 L526.41 386.89 L530.80 388.49 L535.19 390.05 L539.59 391.57 L543.98 393.06 L548.37 394.52 L552.76 395.94 L557.15 397.33 L561.55 398.69 L565.94 400.02 L570.33 401.33 L574.72 402.60 L579.11 403.84 L583.51 405.06 L587.90 406.25 L592.29 407.42 L596.68 408.56 L601.08 409.68 L605.47 410.78 L609.86 411.85 L614.25 412.90 L618.64 413.92 L623.04 414.93 L627.43 415.92 L631.82 416.88 L636.21 417.83 L640.60 418.76 L645.00 419.67 L649.39 420.56 L653.78 421.44 L658.17 422.29 L662.57 423.13 L666.96 423.96 L671.35 424.77 L675.74 425.56 L680.13 426.34 L684.53 427.10 L688.92 427.85 L693.31 428.58 L697.70 429.31 L702.09 430.01 L706.49 430.71 L710.88 431.39 L715.27 432.06 L719.66 432.72 L724.05 433.36 L728.45 434.00 L732.84 434.62 L737.23 435.23 L741.62 435.84 L746.02 436.43 L750.41 437.01 L754.80 437.58 L759.19 438.14 L763.58 438.69 L767.98 439.23 L772.37 439.76 L776.76 440.29 L781.15 440.80 L785.54 441.31 L789.94 441.81 L794.33 442.30 L798.72 442.78 L803.11 443.25 L807.51 443.72 L811.90 444.18 L816.29 444.63 L820.68 445.07 L825.07 445.51 L829.47 445.94 L833.86 446.36 L838.25 446.78 L842.64 447.19 L847.03 447.59 L851.43 447.99 L855.82 448.38 L860.21 448.77 L864.60 449.15 L869.00 449.52 L873.39 449.89 L877.78 450.25" stroke="#5094b9"/><path d="M166.15 427.68 L167.34 418.58 L168.53 409.28 L169.72 399.85 L170.91 390.34 L172.09 380.81 L173.28 371.31 L174.47 361.88 L175.66 352.54 L176.85 343.34 L178.04 334.30 L179.22 325.43 L180.41 316.77 L181.60 308.31 L182.79 300.09 L183.98 292.11 L185.17 284.37 L186.36 276.88 L187.54 269.65 L188.73 262.69 L189.92 255.98 L191.11 249.54 L192.30 243.36 L193.49 237.44 L194.67 231.78 L195.86 226.38 L197.05 221.23 L198.24 216.32 L199.43 211.66 L200.62 207.24 L201.80 203.05 L202.99 199.09 L204.18 195.35 L205.37 191.82 L206.56 188.51 L207.75 185.40 L208.94 182.49 L210.12 179.77 L211.31 177.23 L212.50 174.88 L213.69 172.70 L214.88 170.68 L216.07 168.83 L217.25 167.14 L218.44 165.59 L219.63 164.19 L220.82 162.93 L222.01 161.80 L223.20 160.81 L224.39 159.93 L225.57 159.18 L226.76 158.54 L227.95 158.01 L229.14 157.59 L230.33 157.26 L231.52 157.03 L232.70 156.90 L233.89 156.85 L235.08 156.89 L236.27 157.01 L237.46 157.20 L238.65 157.47 L239.84 157.81 L241.02 158.22 L242.21 158.69 L243.40 159.22 L244.59 159.81 L245.78 160.45 L246.97 161.15 L248.15 161.90 L249.34 162.70 L250.53 163.54 L251.72 164.42 L252.91 165.34 L254.10 166.30 L255.29 167.30 L256.47 168.34 L257.66 169.40 L258.85 170.50 L260.04 171.62 L261.23 172.77 L262.42 173.95 L263.60 175.15 L264.79 176.38 L265.98 177.62 L267.17 178.89 L268.36 180.17 L269.55 181.47 L270.74 182.79 L271.92 184.13 L273.11 185.47 L274.30 186.83 L275.49 188.20 L276.68 189.58 L277.87 190.98 L279.05 192.38 L280.24 193.79 L281.43 195.20 L282.62 196.62 L283.81 198.05 L285.00 199.49 L286.18 200.93 L287.37 202.37 L288.56 203.81 L289.75 205.26 L290.94 206.71 L292.13 208.16 L293.32 209.62 L294.50 211.07 L295.69 212.52 L296.88 213.98 L298.07 215.43 L299.26 216.88 L300.45 218.33 L301.63 219.77 L302.82 221.22 L304.01 222.66 L305.20 224.10 L306.39 225.54 L307.58 226.97 L308.77 228.40 L309.95 229.82 L311.14 231.24 L312.33 232.66 L313.52 234.07 L314.71 235.48 L315.90 236.88 L317.08 238.28 L318.27 239.67 L319.46 241.05 L320.65 242.43 L321.84 243.80 L323.03 245.17 L324.22 246.53 L325.40 247.88 L326.59 249.23 L327.78 250.57 L328.97 251.91 L330.16 253.24 L331.35 254.56 L332.53 255.87 L333.72 257.18 L334.91 258.48 L336.10 259.77 L337.29 261.06 L338.48 262.34 L339.67 263.61 L340.85 264.87 L342.04 266.13 L343.23 267.38 L344.42 268.62 L345.61 269.86 L346.80 271.09 L347.98 272.31 L349.17 273.52 L350.36 274.72 L351.55 275.92 L352.74 277.11 L353.93 278.29 L355.12 279.47 L359.51 283.75 L363.90 287.93 L368.29 292.00 L372.68 295.98 L377.08 299.86 L381.47 303.64 L385.86 307.32 L390.25 310.92 L394.64 314.42 L399.04 317.83 L403.43 321.15 L407.82 324.39 L412.21 327.54 L416.61 330.62 L421.00 333.61 L425.39 336.53 L429.78 339.37 L434.17 342.14 L438.57 344.84 L442.96 347.47 L447.35 350.03 L451.74 352.53 L456.13 354.96 L460.53 357.34 L464.92 359.65 L469.31 361.91 L473.70 364.11 L478.09 366.25 L482.49 368.35 L486.88 370.39 L491.27 372.38 L495.66 374.32 L500.06 376.22 L504.45 378.07 L508.84 379.88 L513.23 381.64 L517.62 383.36 L522.02 385.04 L526.41 386.69 L530.80 388.29 L535.19 389.86 L539.59 391.39 L543.98 392.89 L548.37 394.35 L552.76 395.78 L557.15 397.18 L561.55 398.54 L565.94 399.88 L570.33 401.18 L574.72 402.46 L579.11 403.71 L583.51 404.93 L587.90 406.13 L592.29 407.30 L596.68 408.45 L601.08 409.57 L605.47 410.67 L609.86 411.74 L614.25 412.80 L618.64 413.83 L623.04 414.84 L627.43 415.83 L631.82 416.80 L636.21 417.75 L640.60 418.68 L645.00 419.59 L649.39 420.48 L653.78 421.36 L658.17 422.22 L662.57 423.06 L666.96 423.89 L671.35 424.70 L675.74 425.50 L680.13 426.27 L684.53 427.04 L688.92 427.79 L693.31 428.53 L697.70 429.25 L702.09 429.96 L706.49 430.66 L710.88 431.34 L715.27 432.01 L719.66 432.67 L724.05 433.32 L728.45 433.95 L732.84 434.58 L737.23 435.19 L741.62 435.80 L746.02 436.39 L750.41 436.97 L754.80 437.54 L759.19 438.10 L763.58 438.65 L767.98 439.20 L772.37 439.73 L776.76 440.26 L781.15 440.77 L785.54 441.28 L789.94 441.78 L794.33 442.27 L798.72 442.75 L803.11 443.23 L807.51 443.69 L811.90 444.15 L816.29 444.60 L820.68 445.05 L825.07 445.49 L829.47 445.92 L833.86 446.34 L838.25 446.76 L842.64 447.17 L847.03 447.57 L851.43 447.97 L855.82 448.36 L860.21 448.75 L864.60 449.13 L869.00 449.50 L873.39 449.87 L877.78 450.24" stroke="#5ba3a6"/><path d="M166.15 427.53 L167.34 418.38 L168.53 409.02 L169.72 399.52 L170.91 389.94 L172.09 380.33 L173.28 370.74 L174.47 361.21 L175.66 351.77 L176.85 342.46 L178.04 333.30 L179.22 324.32 L180.41 315.54 L181.60 306.96 L182.79 298.62 L183.98 290.51 L185.17 282.64 L186.36 275.03 L187.54 267.68 L188.73 260.59 L189.92 253.77 L191.11 247.21 L192.30 240.92 L193.49 234.89 L194.67 229.12 L195.86 223.61 L197.05 218.36 L198.24 213.36 L199.43 208.60 L200.62 204.09 L201.80 199.81 L202.99 195.77 L204.18 191.95 L205.37 188.36 L206.56 184.98 L207.75 181.80 L208.94 178.83 L210.12 176.06 L211.31 173.47 L212.50 171.07 L213.69 168.84 L214.88 166.79 L216.07 164.91 L217.25 163.18 L218.44 161.61 L219.63 160.18 L220.82 158.90 L222.01 157.76 L223.20 156.75 L224.39 155.86 L225.57 155.10 L226.76 154.46 L227.95 153.92 L229.14 153.50 L230.33 153.18 L231.52 152.95 L232.70 152.82 L233.89 152.78 L235.08 152.83 L236.27 152.96 L237.46 153.17 L238.65 153.46 L239.84 153.82 L241.02 154.24 L242.21 154.73 L243.40 155.29 L244.59 155.90 L245.78 156.57 L246.97 157.29 L248.15 158.07 L249.34 158.89 L250.53 159.76 L251.72 160.67 L252.91 161.62 L254.10 162.62 L255.29 163.64 L256.47 164.71 L257.66 165.81 L258.85 166.93 L260.04 168.09 L261.23 169.28 L262.42 170.49 L263.60 171.73 L264.79 172.98 L265.98 174.26 L267.17 175.56 L268.36 176.88 L269.55 178.22 L270.74 179.57 L271.92 180.94 L273.11 182.32 L274.30 183.72 L275.49 185.12 L276.68 186.54 L277.87 187.96 L279.05 189.40 L280.24 190.84 L281.43 192.29 L282.62 193.75 L283.81 195.21 L285.00 196.68 L286.18 198.15 L287.37 199.63 L288.56 201.11 L289.75 202.59 L290.94 204.07 L292.13 205.56 L293.32 207.04 L294.50 208.53 L295.69 210.01 L296.88 211.50 L298.07 212.98 L299.26 214.46 L300.45 215.94 L301.63 217.42 L302.82 218.90 L304.01 220.37 L305.20 221.84 L306.39 223.30 L307.58 224.76 L308.77 226.22 L309.95 227.67 L311.14 229.12 L312.33 230.57 L313.52 232.01 L314.71 233.44 L315.90 234.87 L317.08 236.29 L318.27 237.71 L319.46 239.12 L320.65 240.52 L321.84 241.92 L323.03 243.31 L324.22 244.70 L325.40 246.07 L326.59 247.45 L327.78 248.81 L328.97 250.17 L330.16 251.52 L331.35 252.86 L332.53 254.20 L333.72 255.53 L334.91 256.85 L336.10 258.17 L337.29 259.47 L338.48 260.77 L339.67 262.07 L340.85 263.35 L342.04 264.63 L343.23 265.90 L344.42 267.16 L345.61 268.41 L346.80 269.66 L347.98 270.90 L349.17 272.13 L350.36 273.35 L351.55 274.57 L352.74 275.78 L353.93 276.98 L355.12 278.17 L359.51 282.51 L363.90 286.75 L368.29 290.88 L372.68 294.91 L377.08 298.84 L381.47 302.67 L385.86 306.40 L390.25 310.03 L394.64 313.57 L399.04 317.02 L403.43 320.38 L407.82 323.66 L412.21 326.84 L416.61 329.95 L421.00 332.97 L425.39 335.92 L429.78 338.79 L434.17 341.58 L438.57 344.31 L442.96 346.96 L447.35 349.54 L451.74 352.06 L456.13 354.52 L460.53 356.91 L464.92 359.24 L469.31 361.51 L473.70 363.73 L478.09 365.89 L482.49 368.00 L486.88 370.05 L491.27 372.06 L495.66 374.02 L500.06 375.92 L504.45 377.79 L508.84 379.60 L513.23 381.38 L517.62 383.11 L522.02 384.80 L526.41 386.45 L530.80 388.07 L535.19 389.64 L539.59 391.18 L543.98 392.69 L548.37 394.16 L552.76 395.59 L557.15 397.00 L561.55 398.37 L565.94 399.71 L570.33 401.02 L574.72 402.31 L579.11 403.56 L583.51 404.79 L587.90 405.99 L592.29 407.17 L596.68 408.32 L601.08 409.44 L605.47 410.55 L609.86 411.63 L614.25 412.68 L618.64 413.72 L623.04 414.73 L627.43 415.73 L631.82 416.70 L636.21 417.65 L640.60 418.58 L645.00 419.50 L649.39 420.40 L653.78 421.28 L658.17 422.14 L662.57 422.98 L666.96 423.81 L671.35 424.63 L675.74 425.42 L680.13 426.21 L684.53 426.97 L688.92 427.73 L693.31 428.46 L697.70 429.19 L702.09 429.90 L706.49 430.60 L710.88 431.28 L715.27 431.96 L719.66 432.62 L724.05 433.27 L728.45 433.90 L732.84 434.53 L737.23 435.15 L741.62 435.75 L746.02 436.34 L750.41 436.93 L754.80 437.50 L759.19 438.06 L763.58 438.62 L767.98 439.16 L772.37 439.69 L776.76 440.22 L781.15 440.74 L785.54 441.24 L789.94 441.74 L794.33 442.24 L798.72 442.72 L803.11 443.19 L807.51 443.66 L811.90 444.12 L816.29 444.58 L820.68 445.02 L825.07 445.46 L829.47 445.89 L833.86 446.32 L838.25 446.73 L842.64 447.14 L847.03 447.55 L851.43 447.95 L855.82 448.34 L860.21 448.73 L864.60 449.11 L869.00 449.48 L873.39 449.85 L877.78 450.22" stroke="#69af91"/><path d="M166.15 427.37 L167.34 418.16 L168.53 408.73 L169.72 399.15 L170.91 389.49 L172.09 379.78 L173.28 370.09 L174.47 360.45 L175.66 350.90 L176.85 341.47 L178.04 332.19 L179.22 323.08 L180.41 314.16 L181.60 305.45 L182.79 296.96 L183.98 288.71 L185.17 280.71 L186.36 272.96 L187.54 265.47 L188.73 258.25 L189.92 251.29 L191.11 244.60 L192.30 238.18 L193.49 232.02 L194.67 226.13 L195.86 220.50 L197.05 215.14 L198.24 210.02 L199.43 205.17 L200.62 200.55 L201.80 196.18 L202.99 192.05 L204.18 188.15 L205.37 184.47 L206.56 181.01 L207.75 177.77 L208.94 174.73 L210.12 171.89 L211.31 169.25 L212.50 166.79 L213.69 164.52 L214.88 162.43 L216.07 160.50 L217.25 158.74 L218.44 157.14 L219.63 155.69 L220.82 154.38 L222.01 153.22 L223.20 152.19 L224.39 151.30 L225.57 150.52 L226.76 149.87 L227.95 149.34 L229.14 148.91 L230.33 148.59 L231.52 148.37 L232.70 148.25 L233.89 148.22 L235.08 148.28 L236.27 148.43 L237.46 148.66 L238.65 148.96 L239.84 149.34 L241.02 149.78 L242.21 150.30 L243.40 150.88 L244.59 151.52 L245.78 152.21 L246.97 152.97 L248.15 153.77 L249.34 154.62 L250.53 155.52 L251.72 156.47 L252.91 157.45 L254.10 158.48 L255.29 159.55 L256.47 160.65 L257.66 161.78 L258.85 162.94 L260.04 164.14 L261.23 165.36 L262.42 166.61 L263.60 167.89 L264.79 169.18 L265.98 170.50 L267.17 171.84 L268.36 173.20 L269.55 174.57 L270.74 175.97 L271.92 177.37 L273.11 178.79 L274.30 180.23 L275.49 181.67 L276.68 183.13 L277.87 184.59 L279.05 186.07 L280.24 187.55 L281.43 189.04 L282.62 190.54 L283.81 192.04 L285.00 193.54 L286.18 195.05 L287.37 196.57 L288.56 198.08 L289.75 199.60 L290.94 201.12 L292.13 202.64 L293.32 204.16 L294.50 205.69 L295.69 207.21 L296.88 208.73 L298.07 210.25 L299.26 211.76 L300.45 213.28 L301.63 214.79 L302.82 216.30 L304.01 217.80 L305.20 219.31 L306.39 220.80 L307.58 222.30 L308.77 223.79 L309.95 225.27 L311.14 226.75 L312.33 228.23 L313.52 229.70 L314.71 231.16 L315.90 232.62 L317.08 234.07 L318.27 235.51 L319.46 236.95 L320.65 238.39 L321.84 239.81 L323.03 241.23 L324.22 242.65 L325.40 244.05 L326.59 245.45 L327.78 246.84 L328.97 248.23 L330.16 249.60 L331.35 250.97 L332.53 252.33 L333.72 253.69 L334.91 255.03 L336.10 256.37 L337.29 257.70 L338.48 259.03 L339.67 260.34 L340.85 261.65 L342.04 262.95 L343.23 264.24 L344.42 265.53 L345.61 266.80 L346.80 268.07 L347.98 269.33 L349.17 270.58 L350.36 271.83 L351.55 273.06 L352.74 274.29 L353.93 275.51 L355.12 276.72 L359.51 281.13 L363.90 285.44 L368.29 289.63 L372.68 293.72 L377.08 297.70 L381.47 301.58 L385.86 305.37 L390.25 309.05 L394.64 312.64 L399.04 316.13 L403.43 319.53 L407.82 322.84 L412.21 326.07 L416.61 329.21 L421.00 332.26 L425.39 335.24 L429.78 338.14 L434.17 340.96 L438.57 343.71 L442.96 346.39 L447.35 349.00 L451.74 351.54 L456.13 354.02 L460.53 356.43 L464.92 358.78 L469.31 361.07 L473.70 363.31 L478.09 365.49 L482.49 367.61 L486.88 369.68 L491.27 371.70 L495.66 373.67 L500.06 375.60 L504.45 377.47 L508.84 379.30 L513.23 381.09 L517.62 382.83 L522.02 384.53 L526.41 386.19 L530.80 387.82 L535.19 389.40 L539.59 390.95 L543.98 392.46 L548.37 393.94 L552.76 395.39 L557.15 396.80 L561.55 398.18 L565.94 399.53 L570.33 400.84 L574.72 402.13 L579.11 403.40 L583.51 404.63 L587.90 405.84 L592.29 407.02 L596.68 408.17 L601.08 409.30 L605.47 410.41 L609.86 411.50 L614.25 412.56 L618.64 413.60 L623.04 414.61 L627.43 415.61 L631.82 416.59 L636.21 417.54 L640.60 418.48 L645.00 419.40 L649.39 420.30 L653.78 421.18 L658.17 422.05 L662.57 422.90 L666.96 423.73 L671.35 424.54 L675.74 425.34 L680.13 426.13 L684.53 426.90 L688.92 427.65 L693.31 428.39 L697.70 429.12 L702.09 429.83 L706.49 430.53 L710.88 431.22 L715.27 431.90 L719.66 432.56 L724.05 433.21 L728.45 433.85 L732.84 434.48 L737.23 435.09 L741.62 435.70 L746.02 436.29 L750.41 436.88 L754.80 437.45 L759.19 438.02 L763.58 438.57 L767.98 439.12 L772.37 439.65 L776.76 440.18 L781.15 440.70 L785.54 441.21 L789.94 441.71 L794.33 442.20 L798.72 442.68 L803.11 443.16 L807.51 443.63 L811.90 444.09 L816.29 444.54 L820.68 444.99 L825.07 445.43 L829.47 445.86 L833.86 446.29 L838.25 446.70 L842.64 447.12 L847.03 447.52 L851.43 447.92 L855.82 448.32 L860.21 448.70 L864.60 449.08 L869.00 449.46 L873.39 449.83 L877.78 450.19" stroke="#7ab67b"/><path d="M166.15 427.18 L167.34 417.91 L168.53 408.41 L169.72 398.75 L170.91 388.99 L172.09 379.18 L173.28 369.38 L174.47 359.62 L175.66 349.94 L176.85 340.37 L178.04 330.95 L179.22 321.70 L180.41 312.63 L181.60 303.77 L182.79 295.13 L183.98 286.73 L185.17 278.57 L186.36 270.67 L187.54 263.03 L188.73 255.65 L189.92 248.54 L191.11 241.70 L192.30 235.14 L193.49 228.84 L194.67 222.81 L195.86 217.06 L197.05 211.56 L198.24 206.33 L199.43 201.35 L200.62 196.63 L201.80 192.15 L202.99 187.92 L204.18 183.92 L205.37 180.15 L206.56 176.61 L207.75 173.28 L208.94 170.17 L210.12 167.27 L211.31 164.56 L212.50 162.05 L213.69 159.72 L214.88 157.58 L216.07 155.61 L217.25 153.81 L218.44 152.17 L219.63 150.69 L220.82 149.36 L222.01 148.18 L223.20 147.13 L224.39 146.22 L225.57 145.44 L226.76 144.78 L227.95 144.25 L229.14 143.82 L230.33 143.50 L231.52 143.29 L232.70 143.18 L233.89 143.16 L235.08 143.24 L236.27 143.40 L237.46 143.64 L238.65 143.97 L239.84 144.37 L241.02 144.84 L242.21 145.38 L243.40 145.99 L244.59 146.65 L245.78 147.38 L246.97 148.17 L248.15 149.00 L249.34 149.89 L250.53 150.83 L251.72 151.81 L252.91 152.83 L254.10 153.90 L255.29 155.00 L256.47 156.14 L257.66 157.31 L258.85 158.52 L260.04 159.76 L261.23 161.02 L262.42 162.31 L263.60 163.63 L264.79 164.97 L265.98 166.33 L267.17 167.72 L268.36 169.12 L269.55 170.54 L270.74 171.97 L271.92 173.42 L273.11 174.89 L274.30 176.36 L275.49 177.85 L276.68 179.35 L277.87 180.86 L279.05 182.38 L280.24 183.91 L281.43 185.44 L282.62 186.98 L283.81 188.52 L285.00 190.07 L286.18 191.62 L287.37 193.18 L288.56 194.74 L289.75 196.30 L290.94 197.86 L292.13 199.42 L293.32 200.98 L294.50 202.54 L295.69 204.10 L296.88 205.66 L298.07 207.22 L299.26 208.77 L300.45 210.33 L301.63 211.88 L302.82 213.42 L304.01 214.97 L305.20 216.51 L306.39 218.04 L307.58 219.57 L308.77 221.10 L309.95 222.62 L311.14 224.13 L312.33 225.64 L313.52 227.14 L314.71 228.64 L315.90 230.13 L317.08 231.62 L318.27 233.09 L319.46 234.57 L320.65 236.03 L321.84 237.49 L323.03 238.94 L324.22 240.38 L325.40 241.82 L326.59 243.25 L327.78 244.67 L328.97 246.08 L330.16 247.48 L331.35 248.88 L332.53 250.27 L333.72 251.65 L334.91 253.03 L336.10 254.39 L337.29 255.75 L338.48 257.10 L339.67 258.44 L340.85 259.77 L342.04 261.10 L343.23 262.42 L344.42 263.72 L345.61 265.02 L346.80 266.32 L347.98 267.60 L349.17 268.87 L350.36 270.14 L351.55 271.40 L352.74 272.65 L353.93 273.89 L355.12 275.12 L359.51 279.61 L363.90 283.99 L368.29 288.25 L372.68 292.40 L377.08 296.45 L381.47 300.39 L385.86 304.23 L390.25 307.96 L394.64 311.60 L399.04 315.14 L403.43 318.59 L407.82 321.94 L412.21 325.21 L416.61 328.39 L421.00 331.48 L425.39 334.49 L429.78 337.42 L434.17 340.28 L438.57 343.06 L442.96 345.76 L447.35 348.40 L451.74 350.97 L456.13 353.47 L460.53 355.90 L464.92 358.28 L469.31 360.59 L473.70 362.85 L478.09 365.04 L482.49 367.19 L486.88 369.27 L491.27 371.31 L495.66 373.30 L500.06 375.23 L504.45 377.12 L508.84 378.97 L513.23 380.77 L517.62 382.52 L522.02 384.24 L526.41 385.91 L530.80 387.54 L535.19 389.14 L539.59 390.70 L543.98 392.22 L548.37 393.71 L552.76 395.16 L557.15 396.58 L561.55 397.97 L565.94 399.32 L570.33 400.65 L574.72 401.94 L579.11 403.21 L583.51 404.45 L587.90 405.67 L592.29 406.85 L596.68 408.01 L601.08 409.15 L605.47 410.26 L609.86 411.35 L614.25 412.42 L618.64 413.46 L623.04 414.49 L627.43 415.49 L631.82 416.47 L636.21 417.43 L640.60 418.37 L645.00 419.29 L649.39 420.19 L653.78 421.08 L658.17 421.95 L662.57 422.80 L666.96 423.63 L671.35 424.45 L675.74 425.26 L680.13 426.04 L684.53 426.81 L688.92 427.57 L693.31 428.32 L697.70 429.05 L702.09 429.76 L706.49 430.46 L710.88 431.15 L715.27 431.83 L719.66 432.49 L724.05 433.15 L728.45 433.79 L732.84 434.42 L737.23 435.03 L741.62 435.64 L746.02 436.24 L750.41 436.82 L754.80 437.40 L759.19 437.97 L763.58 438.52 L767.98 439.07 L772.37 439.61 L776.76 440.13 L781.15 440.65 L785.54 441.16 L789.94 441.67 L794.33 442.16 L798.72 442.64 L803.11 443.12 L807.51 443.59 L811.90 444.05 L816.29 444.51 L820.68 444.95 L825.07 445.39 L829.47 445.83 L833.86 446.25 L838.25 446.67 L842.64 447.09 L847.03 447.49 L851.43 447.89 L855.82 448.29 L860.21 448.67 L864.60 449.06 L869.00 449.43 L873.39 449.80 L877.78 450.17" stroke="#8ebb68"/><path d="M166.15 426.98 L167.34 417.64 L168.53 408.06 L169.72 398.30 L170.91 388.44 L172.09 378.52 L173.28 368.60 L174.47 358.70 L175.66 348.88 L176.85 339.17 L178.04 329.59 L179.22 320.18 L180.41 310.95 L181.60 301.92 L182.79 293.12 L183.98 284.54 L185.17 276.22 L186.36 268.14 L187.54 260.33 L188.73 252.79 L189.92 245.51 L191.11 238.51 L192.30 231.79 L193.49 225.34 L194.67 219.16 L195.86 213.26 L197.05 207.63 L198.24 202.26 L199.43 197.15 L200.62 192.31 L201.80 187.71 L202.99 183.37 L204.18 179.26 L205.37 175.40 L206.56 171.76 L207.75 168.35 L208.94 165.16 L210.12 162.18 L211.31 159.40 L212.50 156.82 L213.69 154.44 L214.88 152.24 L216.07 150.23 L217.25 148.39 L218.44 146.71 L219.63 145.20 L220.82 143.84 L222.01 142.63 L223.20 141.57 L224.39 140.64 L225.57 139.85 L226.76 139.19 L227.95 138.64 L229.14 138.22 L230.33 137.90 L231.52 137.70 L232.70 137.60 L233.89 137.59 L235.08 137.68 L236.27 137.86 L237.46 138.13 L238.65 138.47 L239.84 138.90 L241.02 139.40 L242.21 139.97 L243.40 140.61 L244.59 141.31 L245.78 142.07 L246.97 142.89 L248.15 143.76 L249.34 144.69 L250.53 145.66 L251.72 146.69 L252.91 147.75 L254.10 148.86 L255.29 150.01 L256.47 151.19 L257.66 152.41 L258.85 153.66 L260.04 154.94 L261.23 156.25 L262.42 157.59 L263.60 158.96 L264.79 160.34 L265.98 161.75 L267.17 163.19 L268.36 164.64 L269.55 166.10 L270.74 167.59 L271.92 169.09 L273.11 170.60 L274.30 172.12 L275.49 173.66 L276.68 175.21 L277.87 176.77 L279.05 178.33 L280.24 179.91 L281.43 181.49 L282.62 183.07 L283.81 184.66 L285.00 186.26 L286.18 187.86 L287.37 189.46 L288.56 191.06 L289.75 192.67 L290.94 194.28 L292.13 195.88 L293.32 197.49 L294.50 199.09 L295.69 200.70 L296.88 202.30 L298.07 203.90 L299.26 205.50 L300.45 207.09 L301.63 208.69 L302.82 210.27 L304.01 211.86 L305.20 213.44 L306.39 215.01 L307.58 216.58 L308.77 218.15 L309.95 219.71 L311.14 221.26 L312.33 222.81 L313.52 224.35 L314.71 225.88 L315.90 227.41 L317.08 228.93 L318.27 230.44 L319.46 231.95 L320.65 233.45 L321.84 234.94 L323.03 236.43 L324.22 237.90 L325.40 239.37 L326.59 240.83 L327.78 242.29 L328.97 243.73 L330.16 245.17 L331.35 246.60 L332.53 248.02 L333.72 249.43 L334.91 250.83 L336.10 252.23 L337.29 253.61 L338.48 254.99 L339.67 256.36 L340.85 257.72 L342.04 259.07 L343.23 260.42 L344.42 261.75 L345.61 263.08 L346.80 264.40 L347.98 265.71 L349.17 267.01 L350.36 268.30 L351.55 269.58 L352.74 270.85 L353.93 272.12 L355.12 273.38 L359.51 277.95 L363.90 282.40 L368.29 286.74 L372.68 290.97 L377.08 295.08 L381.47 299.09 L385.86 302.99 L390.25 306.78 L394.64 310.47 L399.04 314.06 L403.43 317.56 L407.82 320.96 L412.21 324.27 L416.61 327.49 L421.00 330.62 L425.39 333.67 L429.78 336.64 L434.17 339.53 L438.57 342.34 L442.96 345.08 L447.35 347.75 L451.74 350.34 L456.13 352.87 L460.53 355.33 L464.92 357.73 L469.31 360.07 L473.70 362.34 L478.09 364.56 L482.49 366.72 L486.88 368.83 L491.27 370.88 L495.66 372.89 L500.06 374.84 L504.45 376.74 L508.84 378.60 L513.23 380.42 L517.62 382.19 L522.02 383.91 L526.41 385.60 L530.80 387.24 L535.19 388.85 L539.59 390.42 L543.98 391.95 L548.37 393.45 L552.76 394.91 L557.15 396.34 L561.55 397.74 L565.94 399.10 L570.33 400.43 L574.72 401.74 L579.11 403.01 L583.51 404.26 L587.90 405.48 L592.29 406.67 L596.68 407.84 L601.08 408.98 L605.47 410.10 L609.86 411.20 L614.25 412.27 L618.64 413.32 L623.04 414.34 L627.43 415.35 L631.82 416.33 L636.21 417.30 L640.60 418.24 L645.00 419.17 L649.39 420.08 L653.78 420.97 L658.17 421.84 L662.57 422.69 L666.96 423.53 L671.35 424.35 L675.74 425.16 L680.13 425.95 L684.53 426.72 L688.92 427.49 L693.31 428.23 L697.70 428.96 L702.09 429.68 L706.49 430.39 L710.88 431.08 L715.27 431.76 L719.66 432.42 L724.05 433.08 L728.45 433.72 L732.84 434.35 L737.23 434.97 L741.62 435.58 L746.02 436.18 L750.41 436.77 L754.80 437.34 L759.19 437.91 L763.58 438.47 L767.98 439.02 L772.37 439.56 L776.76 440.08 L781.15 440.61 L785.54 441.12 L789.94 441.62 L794.33 442.11 L798.72 442.60 L803.11 443.08 L807.51 443.55 L811.90 444.01 L816.29 444.47 L820.68 444.92 L825.07 445.36 L829.47 445.79 L833.86 446.22 L838.25 446.64 L842.64 447.05 L847.03 447.46 L851.43 447.86 L855.82 448.26 L860.21 448.64 L864.60 449.03 L869.00 449.40 L873.39 449.78 L877.78 450.14" stroke="#a3bd58"/><path d="M166.15 426.76 L167.34 417.34 L168.53 407.67 L169.72 397.82 L170.91 387.85 L172.09 377.81 L173.28 367.74 L174.47 357.71 L175.66 347.73 L176.85 337.86 L178.04 328.12 L179.22 318.53 L180.41 309.12 L181.60 299.91 L182.79 290.92 L183.98 282.16 L185.17 273.65 L186.36 265.39 L187.54 257.39 L188.73 249.66 L189.92 242.21 L191.11 235.03 L192.30 228.14 L193.49 221.52 L194.67 215.18 L195.86 209.12 L197.05 203.33 L198.24 197.81 L199.43 192.57 L200.62 187.59 L201.80 182.86 L202.99 178.40 L204.18 174.18 L205.37 170.20 L206.56 166.46 L207.75 162.96 L208.94 159.68 L210.12 156.61 L211.31 153.76 L212.50 151.11 L213.69 148.67 L214.88 146.41 L216.07 144.34 L217.25 142.46 L218.44 140.74 L219.63 139.19 L220.82 137.80 L222.01 136.57 L223.20 135.49 L224.39 134.54 L225.57 133.74 L226.76 133.07 L227.95 132.52 L229.14 132.10 L230.33 131.79 L231.52 131.59 L232.70 131.50 L233.89 131.51 L235.08 131.62 L236.27 131.82 L237.46 132.10 L238.65 132.48 L239.84 132.93 L241.02 133.46 L242.21 134.06 L243.40 134.73 L244.59 135.47 L245.78 136.27 L246.97 137.13 L248.15 138.04 L249.34 139.01 L250.53 140.03 L251.72 141.10 L252.91 142.21 L254.10 143.36 L255.29 144.56 L256.47 145.79 L257.66 147.06 L258.85 148.36 L260.04 149.69 L261.23 151.05 L262.42 152.45 L263.60 153.86 L264.79 155.30 L265.98 156.76 L267.17 158.25 L268.36 159.75 L269.55 161.27 L270.74 162.81 L271.92 164.36 L273.11 165.93 L274.30 167.50 L275.49 169.09 L276.68 170.69 L277.87 172.30 L279.05 173.92 L280.24 175.55 L281.43 177.18 L282.62 178.82 L283.81 180.46 L285.00 182.11 L286.18 183.76 L287.37 185.41 L288.56 187.07 L289.75 188.72 L290.94 190.38 L292.13 192.03 L293.32 193.69 L294.50 195.34 L295.69 196.99 L296.88 198.64 L298.07 200.29 L299.26 201.94 L300.45 203.58 L301.63 205.22 L302.82 206.85 L304.01 208.48 L305.20 210.10 L306.39 211.72 L307.58 213.33 L308.77 214.94 L309.95 216.54 L311.14 218.14 L312.33 219.72 L313.52 221.31 L314.71 222.88 L315.90 224.45 L317.08 226.01 L318.27 227.56 L319.46 229.11 L320.65 230.64 L321.84 232.17 L323.03 233.70 L324.22 235.21 L325.40 236.71 L326.59 238.21 L327.78 239.70 L328.97 241.18 L330.16 242.65 L331.35 244.11 L332.53 245.57 L333.72 247.01 L334.91 248.45 L336.10 249.87 L337.29 251.29 L338.48 252.70 L339.67 254.10 L340.85 255.49 L342.04 256.88 L343.23 258.25 L344.42 259.61 L345.61 260.97 L346.80 262.31 L347.98 263.65 L349.17 264.98 L350.36 266.30 L351.55 267.61 L352.74 268.91 L353.93 270.20 L355.12 271.48 L359.51 276.14 L363.90 280.68 L368.29 285.11 L372.68 289.41 L377.08 293.60 L381.47 297.67 L385.86 301.64 L390.25 305.50 L394.64 309.25 L399.04 312.90 L403.43 316.45 L407.82 319.90 L412.21 323.26 L416.61 326.52 L421.00 329.70 L425.39 332.79 L429.78 335.80 L434.17 338.72 L438.57 341.57 L442.96 344.34 L447.35 347.04 L451.74 349.67 L456.13 352.22 L460.53 354.71 L464.92 357.13 L469.31 359.50 L473.70 361.79 L478.09 364.04 L482.49 366.22 L486.88 368.35 L491.27 370.42 L495.66 372.44 L500.06 374.41 L504.45 376.33 L508.84 378.21 L513.23 380.04 L517.62 381.82 L522.02 383.56 L526.41 385.26 L530.80 386.92 L535.19 388.54 L539.59 390.12 L543.98 391.66 L548.37 393.17 L552.76 394.64 L557.15 396.08 L561.55 397.49 L565.94 398.86 L570.33 400.20 L574.72 401.52 L579.11 402.80 L583.51 404.05 L587.90 405.28 L592.29 406.48 L596.68 407.65 L601.08 408.80 L605.47 409.93 L609.86 411.03 L614.25 412.11 L618.64 413.16 L623.04 414.19 L627.43 415.20 L631.82 416.19 L636.21 417.16 L640.60 418.11 L645.00 419.04 L649.39 419.95 L653.78 420.85 L658.17 421.72 L662.57 422.58 L666.96 423.42 L671.35 424.25 L675.74 425.06 L680.13 425.85 L684.53 426.63 L688.92 427.39 L693.31 428.14 L697.70 428.87 L702.09 429.59 L706.49 430.30 L710.88 431.00 L715.27 431.68 L719.66 432.35 L724.05 433.00 L728.45 433.65 L732.84 434.28 L737.23 434.90 L741.62 435.51 L746.02 436.11 L750.41 436.70 L754.80 437.28 L759.19 437.85 L763.58 438.41 L767.98 438.96 L772.37 439.50 L776.76 440.03 L781.15 440.55 L785.54 441.07 L789.94 441.57 L794.33 442.07 L798.72 442.56 L803.11 443.03 L807.51 443.51 L811.90 443.97 L816.29 444.43 L820.68 444.88 L825.07 445.32 L829.47 445.75 L833.86 446.18 L838.25 446.60 L842.64 447.02 L847.03 447.43 L851.43 447.83 L855.82 448.22 L860.21 448.61 L864.60 449.00 L869.00 449.37 L873.39 449.75 L877.78 450.11" stroke="#b8bb4b"/><path d="M166.15 426.52 L167.34 417.02 L168.53 407.26 L169.72 397.30 L170.91 387.20 L172.09 377.03 L173.28 366.82 L174.47 356.63 L175.66 346.49 L176.85 336.44 L178.04 326.51 L179.22 316.74 L180.41 307.13 L181.60 297.73 L182.79 288.54 L183.98 279.58 L185.17 270.86 L186.36 262.40 L187.54 254.20 L188.73 246.27 L189.92 238.62 L191.11 231.26 L192.30 224.17 L193.49 217.37 L194.67 210.85 L195.86 204.61 L197.05 198.66 L198.24 192.99 L199.43 187.59 L200.62 182.46 L201.80 177.60 L202.99 173.00 L204.18 168.65 L205.37 164.56 L206.56 160.71 L207.75 157.10 L208.94 153.72 L210.12 150.57 L211.31 147.63 L212.50 144.91 L213.69 142.40 L214.88 140.08 L216.07 137.95 L217.25 136.01 L218.44 134.25 L219.63 132.67 L220.82 131.25 L222.01 129.99 L223.20 128.88 L224.39 127.92 L225.57 127.10 L226.76 126.42 L227.95 125.87 L229.14 125.45 L230.33 125.15 L231.52 124.96 L232.70 124.88 L233.89 124.90 L235.08 125.03 L236.27 125.25 L237.46 125.57 L238.65 125.97 L239.84 126.45 L241.02 127.01 L242.21 127.65 L243.40 128.36 L244.59 129.14 L245.78 129.98 L246.97 130.88 L248.15 131.84 L249.34 132.85 L250.53 133.92 L251.72 135.04 L252.91 136.20 L254.10 137.40 L255.29 138.65 L256.47 139.94 L257.66 141.26 L258.85 142.61 L260.04 144.00 L261.23 145.42 L262.42 146.87 L263.60 148.34 L264.79 149.84 L265.98 151.36 L267.17 152.90 L268.36 154.46 L269.55 156.04 L270.74 157.63 L271.92 159.24 L273.11 160.86 L274.30 162.50 L275.49 164.15 L276.68 165.81 L277.87 167.47 L279.05 169.15 L280.24 170.83 L281.43 172.52 L282.62 174.22 L283.81 175.92 L285.00 177.62 L286.18 179.32 L287.37 181.03 L288.56 182.74 L289.75 184.45 L290.94 186.16 L292.13 187.87 L293.32 189.58 L294.50 191.29 L295.69 192.99 L296.88 194.69 L298.07 196.39 L299.26 198.09 L300.45 199.78 L301.63 201.46 L302.82 203.15 L304.01 204.82 L305.20 206.50 L306.39 208.16 L307.58 209.82 L308.77 211.48 L309.95 213.12 L311.14 214.76 L312.33 216.40 L313.52 218.02 L314.71 219.64 L315.90 221.25 L317.08 222.86 L318.27 224.45 L319.46 226.04 L320.65 227.62 L321.84 229.19 L323.03 230.75 L324.22 232.30 L325.40 233.85 L326.59 235.38 L327.78 236.91 L328.97 238.43 L330.16 239.93 L331.35 241.43 L332.53 242.92 L333.72 244.40 L334.91 245.87 L336.10 247.34 L337.29 248.79 L338.48 250.23 L339.67 251.67 L340.85 253.09 L342.04 254.50 L343.23 255.91 L344.42 257.30 L345.61 258.69 L346.80 260.07 L347.98 261.43 L349.17 262.79 L350.36 264.14 L351.55 265.48 L352.74 266.81 L353.93 268.13 L355.12 269.44 L359.51 274.20 L363.90 278.83 L368.29 283.34 L372.68 287.73 L377.08 292.00 L381.47 296.15 L385.86 300.19 L390.25 304.11 L394.64 307.93 L399.04 311.64 L403.43 315.25 L407.82 318.75 L412.21 322.16 L416.61 325.48 L421.00 328.70 L425.39 331.84 L429.78 334.89 L434.17 337.85 L438.57 340.74 L442.96 343.55 L447.35 346.28 L451.74 348.94 L456.13 351.52 L460.53 354.04 L464.92 356.50 L469.31 358.88 L473.70 361.21 L478.09 363.47 L482.49 365.68 L486.88 367.83 L491.27 369.92 L495.66 371.96 L500.06 373.95 L504.45 375.89 L508.84 377.79 L513.23 379.63 L517.62 381.43 L522.02 383.19 L526.41 384.90 L530.80 386.57 L535.19 388.20 L539.59 389.80 L543.98 391.35 L548.37 392.87 L552.76 394.35 L557.15 395.80 L561.55 397.22 L565.94 398.60 L570.33 399.95 L574.72 401.28 L579.11 402.57 L583.51 403.83 L587.90 405.06 L592.29 406.27 L596.68 407.45 L601.08 408.61 L605.47 409.74 L609.86 410.85 L614.25 411.93 L618.64 412.99 L623.04 414.03 L627.43 415.04 L631.82 416.04 L636.21 417.01 L640.60 417.97 L645.00 418.90 L649.39 419.82 L653.78 420.72 L658.17 421.60 L662.57 422.46 L666.96 423.30 L671.35 424.13 L675.74 424.95 L680.13 425.74 L684.53 426.52 L688.92 427.29 L693.31 428.04 L697.70 428.78 L702.09 429.50 L706.49 430.21 L710.88 430.91 L715.27 431.59 L719.66 432.26 L724.05 432.92 L728.45 433.57 L732.84 434.21 L737.23 434.83 L741.62 435.44 L746.02 436.05 L750.41 436.64 L754.80 437.22 L759.19 437.79 L763.58 438.35 L767.98 438.90 L772.37 439.44 L776.76 439.97 L781.15 440.50 L785.54 441.01 L789.94 441.52 L794.33 442.02 L798.72 442.51 L803.11 442.99 L807.51 443.46 L811.90 443.93 L816.29 444.38 L820.68 444.83 L825.07 445.28 L829.47 445.71 L833.86 446.14 L838.25 446.56 L842.64 446.98 L847.03 447.39 L851.43 447.79 L855.82 448.19 L860.21 448.58 L864.60 448.96 L869.00 449.34 L873.39 449.71 L877.78 450.08" stroke="#ccb541"/><path d="M166.15 426.26 L167.34 416.68 L168.53 406.81 L169.72 396.74 L170.91 386.51 L172.09 376.19 L173.28 365.83 L174.47 355.47 L175.66 345.15 L176.85 334.91 L178.04 324.79 L179.22 314.81 L180.41 304.99 L181.60 295.38 L182.79 285.97 L183.98 276.79 L185.17 267.85 L186.36 259.17 L187.54 250.76 L188.73 242.61 L189.92 234.75 L191.11 227.18 L192.30 219.89 L193.49 212.88 L194.67 206.17 L195.86 199.75 L197.05 193.62 L198.24 187.77 L199.43 182.20 L200.62 176.92 L201.80 171.90 L202.99 167.16 L204.18 162.68 L205.37 158.46 L206.56 154.49 L207.75 150.77 L208.94 147.28 L210.12 144.03 L211.31 141.01 L212.50 138.21 L213.69 135.61 L214.88 133.23 L216.07 131.04 L217.25 129.05 L218.44 127.24 L219.63 125.61 L220.82 124.16 L222.01 122.87 L223.20 121.74 L224.39 120.76 L225.57 119.93 L226.76 119.24 L227.95 118.69 L229.14 118.27 L230.33 117.97 L231.52 117.79 L232.70 117.73 L233.89 117.77 L235.08 117.92 L236.27 118.17 L237.46 118.51 L238.65 118.94 L239.84 119.45 L241.02 120.05 L242.21 120.73 L243.40 121.48 L244.59 122.30 L245.78 123.18 L246.97 124.13 L248.15 125.14 L249.34 126.21 L250.53 127.33 L251.72 128.50 L252.91 129.71 L254.10 130.97 L255.29 132.28 L256.47 133.62 L257.66 135.00 L258.85 136.42 L260.04 137.87 L261.23 139.34 L262.42 140.85 L263.60 142.39 L264.79 143.94 L265.98 145.53 L267.17 147.13 L268.36 148.75 L269.55 150.39 L270.74 152.05 L271.92 153.73 L273.11 155.41 L274.30 157.11 L275.49 158.82 L276.68 160.54 L277.87 162.27 L279.05 164.01 L280.24 165.76 L281.43 167.51 L282.62 169.26 L283.81 171.02 L285.00 172.79 L286.18 174.55 L287.37 176.32 L288.56 178.09 L289.75 179.86 L290.94 181.62 L292.13 183.39 L293.32 185.16 L294.50 186.92 L295.69 188.68 L296.88 190.44 L298.07 192.19 L299.26 193.95 L300.45 195.69 L301.63 197.43 L302.82 199.17 L304.01 200.90 L305.20 202.62 L306.39 204.34 L307.58 206.05 L308.77 207.75 L309.95 209.45 L311.14 211.14 L312.33 212.82 L313.52 214.50 L314.71 216.16 L315.90 217.82 L317.08 219.47 L318.27 221.11 L319.46 222.74 L320.65 224.37 L321.84 225.98 L323.03 227.59 L324.22 229.18 L325.40 230.77 L326.59 232.34 L327.78 233.91 L328.97 235.47 L330.16 237.02 L331.35 238.56 L332.53 240.09 L333.72 241.61 L334.91 243.11 L336.10 244.61 L337.29 246.10 L338.48 247.58 L339.67 249.05 L340.85 250.51 L342.04 251.96 L343.23 253.40 L344.42 254.83 L345.61 256.25 L346.80 257.66 L347.98 259.06 L349.17 260.45 L350.36 261.83 L351.55 263.20 L352.74 264.56 L353.93 265.91 L355.12 267.25 L359.51 272.11 L363.90 276.85 L368.29 281.46 L372.68 285.94 L377.08 290.29 L381.47 294.52 L385.86 298.64 L390.25 302.63 L394.64 306.52 L399.04 310.30 L403.43 313.96 L407.82 317.53 L412.21 321.00 L416.61 324.37 L421.00 327.64 L425.39 330.82 L429.78 333.92 L434.17 336.93 L438.57 339.85 L442.96 342.70 L447.35 345.47 L451.74 348.16 L456.13 350.78 L460.53 353.33 L464.92 355.81 L469.31 358.23 L473.70 360.58 L478.09 362.87 L482.49 365.10 L486.88 367.28 L491.27 369.39 L495.66 371.45 L500.06 373.47 L504.45 375.42 L508.84 377.34 L513.23 379.20 L517.62 381.01 L522.02 382.79 L526.41 384.51 L530.80 386.20 L535.19 387.85 L539.59 389.45 L543.98 391.02 L548.37 392.55 L552.76 394.05 L557.15 395.51 L561.55 396.93 L565.94 398.33 L570.33 399.69 L574.72 401.02 L579.11 402.32 L583.51 403.59 L587.90 404.84 L592.29 406.05 L596.68 407.24 L601.08 408.40 L605.47 409.54 L609.86 410.65 L614.25 411.74 L618.64 412.81 L623.04 413.85 L627.43 414.88 L631.82 415.88 L636.21 416.86 L640.60 417.82 L645.00 418.76 L649.39 419.68 L653.78 420.58 L658.17 421.46 L662.57 422.33 L666.96 423.18 L671.35 424.01 L675.74 424.83 L680.13 425.63 L684.53 426.41 L688.92 427.18 L693.31 427.94 L697.70 428.68 L702.09 429.40 L706.49 430.12 L710.88 430.82 L715.27 431.50 L719.66 432.18 L724.05 432.84 L728.45 433.49 L732.84 434.13 L737.23 434.75 L741.62 435.37 L746.02 435.97 L750.41 436.57 L754.80 437.15 L759.19 437.72 L763.58 438.28 L767.98 438.84 L772.37 439.38 L776.76 439.91 L781.15 440.44 L785.54 440.96 L789.94 441.46 L794.33 441.96 L798.72 442.45 L803.11 442.93 L807.51 443.41 L811.90 443.88 L816.29 444.34 L820.68 444.79 L825.07 445.23 L829.47 445.67 L833.86 446.10 L838.25 446.52 L842.64 446.94 L847.03 447.35 L851.43 447.75 L855.82 448.15 L860.21 448.54 L864.60 448.93 L869.00 449.31 L873.39 449.68 L877.78 450.05" stroke="#d9a93a"/><path d="M166.15 425.98 L167.34 416.31 L168.53 406.33 L169.72 396.13 L170.91 385.77 L172.09 375.29 L173.28 364.76 L174.47 354.22 L175.66 343.71 L176.85 333.27 L178.04 322.93 L179.22 312.73 L180.41 302.70 L181.60 292.85 L182.79 283.21 L183.98 273.79 L185.17 264.62 L186.36 255.70 L187.54 247.05 L188.73 238.68 L189.92 230.59 L191.11 222.79 L192.30 215.28 L193.49 208.06 L194.67 201.14 L195.86 194.52 L197.05 188.19 L198.24 182.16 L199.43 176.41 L200.62 170.95 L201.80 165.78 L202.99 160.88 L204.18 156.25 L205.37 151.89 L206.56 147.80 L207.75 143.95 L208.94 140.36 L210.12 137.00 L211.31 133.88 L212.50 130.99 L213.69 128.32 L214.88 125.86 L216.07 123.61 L217.25 121.56 L218.44 119.70 L219.63 118.03 L220.82 116.53 L222.01 115.21 L223.20 114.06 L224.39 113.06 L225.57 112.22 L226.76 111.52 L227.95 110.97 L229.14 110.55 L230.33 110.25 L231.52 110.09 L232.70 110.04 L233.89 110.10 L235.08 110.27 L236.27 110.54 L237.46 110.92 L238.65 111.38 L239.84 111.93 L241.02 112.57 L242.21 113.29 L243.40 114.08 L244.59 114.95 L245.78 115.89 L246.97 116.89 L248.15 117.95 L249.34 119.07 L250.53 120.24 L251.72 121.47 L252.91 122.75 L254.10 124.07 L255.29 125.43 L256.47 126.84 L257.66 128.28 L258.85 129.76 L260.04 131.28 L261.23 132.82 L262.42 134.40 L263.60 136.00 L264.79 137.62 L265.98 139.27 L267.17 140.94 L268.36 142.64 L269.55 144.34 L270.74 146.07 L271.92 147.81 L273.11 149.57 L274.30 151.33 L275.49 153.11 L276.68 154.90 L277.87 156.70 L279.05 158.50 L280.24 160.32 L281.43 162.13 L282.62 163.95 L283.81 165.78 L285.00 167.61 L286.18 169.44 L287.37 171.27 L288.56 173.10 L289.75 174.94 L290.94 176.77 L292.13 178.60 L293.32 180.43 L294.50 182.25 L295.69 184.07 L296.88 185.89 L298.07 187.70 L299.26 189.51 L300.45 191.32 L301.63 193.12 L302.82 194.91 L304.01 196.70 L305.20 198.48 L306.39 200.25 L307.58 202.01 L308.77 203.77 L309.95 205.52 L311.14 207.27 L312.33 209.00 L313.52 210.73 L314.71 212.44 L315.90 214.15 L317.08 215.85 L318.27 217.54 L319.46 219.22 L320.65 220.89 L321.84 222.55 L323.03 224.21 L324.22 225.85 L325.40 227.48 L326.59 229.10 L327.78 230.71 L328.97 232.31 L330.16 233.91 L331.35 235.49 L332.53 237.06 L333.72 238.62 L334.91 240.17 L336.10 241.71 L337.29 243.24 L338.48 244.75 L339.67 246.26 L340.85 247.76 L342.04 249.25 L343.23 250.72 L344.42 252.19 L345.61 253.64 L346.80 255.09 L347.98 256.52 L349.17 257.95 L350.36 259.36 L351.55 260.76 L352.74 262.16 L353.93 263.54 L355.12 264.91 L359.51 269.89 L363.90 274.74 L368.29 279.45 L372.68 284.02 L377.08 288.47 L381.47 292.79 L385.86 296.98 L390.25 301.06 L394.64 305.02 L399.04 308.86 L403.43 312.60 L407.82 316.23 L412.21 319.75 L416.61 323.18 L421.00 326.51 L425.39 329.74 L429.78 332.88 L434.17 335.94 L438.57 338.91 L442.96 341.80 L447.35 344.60 L451.74 347.33 L456.13 349.99 L460.53 352.57 L464.92 355.09 L469.31 357.53 L473.70 359.91 L478.09 362.23 L482.49 364.49 L486.88 366.69 L491.27 368.83 L495.66 370.91 L500.06 372.95 L504.45 374.93 L508.84 376.86 L513.23 378.74 L517.62 380.57 L522.02 382.36 L526.41 384.11 L530.80 385.81 L535.19 387.47 L539.59 389.09 L543.98 390.67 L548.37 392.21 L552.76 393.72 L557.15 395.19 L561.55 396.63 L565.94 398.04 L570.33 399.41 L574.72 400.75 L579.11 402.06 L583.51 403.34 L587.90 404.59 L592.29 405.82 L596.68 407.01 L601.08 408.18 L605.47 409.33 L609.86 410.45 L614.25 411.55 L618.64 412.62 L623.04 413.67 L627.43 414.70 L631.82 415.70 L636.21 416.69 L640.60 417.65 L645.00 418.60 L649.39 419.52 L653.78 420.43 L658.17 421.32 L662.57 422.19 L666.96 423.04 L671.35 423.88 L675.74 424.70 L680.13 425.51 L684.53 426.29 L688.92 427.07 L693.31 427.83 L697.70 428.57 L702.09 429.30 L706.49 430.02 L710.88 430.72 L715.27 431.41 L719.66 432.08 L724.05 432.75 L728.45 433.40 L732.84 434.04 L737.23 434.67 L741.62 435.29 L746.02 435.89 L750.41 436.49 L754.80 437.07 L759.19 437.65 L763.58 438.21 L767.98 438.77 L772.37 439.31 L776.76 439.85 L781.15 440.38 L785.54 440.89 L789.94 441.40 L794.33 441.90 L798.72 442.40 L803.11 442.88 L807.51 443.36 L811.90 443.82 L816.29 444.28 L820.68 444.74 L825.07 445.18 L829.47 445.62 L833.86 446.05 L838.25 446.48 L842.64 446.90 L847.03 447.31 L851.43 447.71 L855.82 448.11 L860.21 448.50 L864.60 448.89 L869.00 449.27 L873.39 449.64 L877.78 450.01" stroke="#e49935"/><path d="M166.15 425.69 L167.34 415.91 L168.53 405.83 L169.72 395.49 L170.91 384.98 L172.09 374.34 L173.28 363.62 L174.47 352.89 L175.66 342.17 L176.85 331.51 L178.04 320.95 L179.22 310.52 L180.41 300.24 L181.60 290.15 L182.79 280.26 L183.98 270.59 L185.17 261.16 L186.36 251.99 L187.54 243.09 L188.73 234.47 L189.92 226.13 L191.11 218.09 L192.30 210.34 L193.49 202.90 L194.67 195.76 L195.86 188.92 L197.05 182.38 L198.24 176.14 L199.43 170.21 L200.62 164.56 L201.80 159.21 L202.99 154.15 L204.18 149.36 L205.37 144.86 L206.56 140.62 L207.75 136.65 L208.94 132.93 L210.12 129.46 L211.31 126.24 L212.50 123.25 L213.69 120.49 L214.88 117.96 L216.07 115.64 L217.25 113.52 L218.44 111.61 L219.63 109.89 L220.82 108.36 L222.01 107.00 L223.20 105.82 L224.39 104.81 L225.57 103.95 L226.76 103.24 L227.95 102.69 L229.14 102.27 L230.33 101.98 L231.52 101.83 L232.70 101.80 L233.89 101.88 L235.08 102.08 L236.27 102.38 L237.46 102.78 L238.65 103.29 L239.84 103.88 L241.02 104.56 L242.21 105.32 L243.40 106.17 L244.59 107.09 L245.78 108.07 L246.97 109.13 L248.15 110.25 L249.34 111.43 L250.53 112.67 L251.72 113.96 L252.91 115.30 L254.10 116.68 L255.29 118.12 L256.47 119.59 L257.66 121.10 L258.85 122.65 L260.04 124.24 L261.23 125.85 L262.42 127.50 L263.60 129.17 L264.79 130.87 L265.98 132.59 L267.17 134.33 L268.36 136.10 L269.55 137.88 L270.74 139.68 L271.92 141.49 L273.11 143.32 L274.30 145.16 L275.49 147.02 L276.68 148.88 L277.87 150.75 L279.05 152.62 L280.24 154.51 L281.43 156.40 L282.62 158.29 L283.81 160.19 L285.00 162.08 L286.18 163.99 L287.37 165.89 L288.56 167.79 L289.75 169.69 L290.94 171.59 L292.13 173.48 L293.32 175.38 L294.50 177.27 L295.69 179.16 L296.88 181.04 L298.07 182.92 L299.26 184.79 L300.45 186.66 L301.63 188.52 L302.82 190.37 L304.01 192.22 L305.20 194.06 L306.39 195.89 L307.58 197.72 L308.77 199.53 L309.95 201.34 L311.14 203.14 L312.33 204.93 L313.52 206.71 L314.71 208.48 L315.90 210.25 L317.08 212.00 L318.27 213.74 L319.46 215.47 L320.65 217.20 L321.84 218.91 L323.03 220.61 L324.22 222.30 L325.40 223.98 L326.59 225.65 L327.78 227.31 L328.97 228.96 L330.16 230.60 L331.35 232.22 L332.53 233.84 L333.72 235.44 L334.91 237.04 L336.10 238.62 L337.29 240.19 L338.48 241.75 L339.67 243.30 L340.85 244.84 L342.04 246.36 L343.23 247.88 L344.42 249.38 L345.61 250.88 L346.80 252.36 L347.98 253.83 L349.17 255.29 L350.36 256.74 L351.55 258.18 L352.74 259.61 L353.93 261.02 L355.12 262.43 L359.51 267.53 L363.90 272.49 L368.29 277.31 L372.68 281.99 L377.08 286.53 L381.47 290.95 L385.86 295.23 L390.25 299.39 L394.64 303.43 L399.04 307.35 L403.43 311.15 L407.82 314.85 L412.21 318.44 L416.61 321.92 L421.00 325.31 L425.39 328.60 L429.78 331.79 L434.17 334.89 L438.57 337.91 L442.96 340.84 L447.35 343.69 L451.74 346.46 L456.13 349.15 L460.53 351.77 L464.92 354.32 L469.31 356.80 L473.70 359.21 L478.09 361.56 L482.49 363.84 L486.88 366.07 L491.27 368.23 L495.66 370.34 L500.06 372.40 L504.45 374.40 L508.84 376.35 L513.23 378.25 L517.62 380.10 L522.02 381.91 L526.41 383.67 L530.80 385.39 L535.19 387.07 L539.59 388.70 L543.98 390.30 L548.37 391.86 L552.76 393.38 L557.15 394.86 L561.55 396.31 L565.94 397.73 L570.33 399.11 L574.72 400.46 L579.11 401.78 L583.51 403.07 L587.90 404.33 L592.29 405.57 L596.68 406.77 L601.08 407.95 L605.47 409.10 L609.86 410.23 L614.25 411.34 L618.64 412.42 L623.04 413.47 L627.43 414.51 L631.82 415.52 L636.21 416.51 L640.60 417.48 L645.00 418.43 L649.39 419.36 L653.78 420.28 L658.17 421.17 L662.57 422.04 L666.96 422.90 L671.35 423.74 L675.74 424.57 L680.13 425.38 L684.53 426.17 L688.92 426.95 L693.31 427.71 L697.70 428.46 L702.09 429.19 L706.49 429.91 L710.88 430.61 L715.27 431.31 L719.66 431.99 L724.05 432.65 L728.45 433.31 L732.84 433.95 L737.23 434.58 L741.62 435.20 L746.02 435.81 L750.41 436.41 L754.80 437.00 L759.19 437.57 L763.58 438.14 L767.98 438.70 L772.37 439.24 L776.76 439.78 L781.15 440.31 L785.54 440.83 L789.94 441.34 L794.33 441.84 L798.72 442.34 L803.11 442.82 L807.51 443.30 L811.90 443.77 L816.29 444.23 L820.68 444.69 L825.07 445.13 L829.47 445.57 L833.86 446.00 L838.25 446.43 L842.64 446.85 L847.03 447.26 L851.43 447.67 L855.82 448.07 L860.21 448.46 L864.60 448.85 L869.00 449.23 L873.39 449.60 L877.78 449.97" stroke="#e47e30"/><path d="M166.15 425.38 L167.34 415.50 L168.53 405.28 L169.72 394.81 L170.91 384.13 L172.09 373.32 L173.28 362.41 L174.47 351.47 L175.66 340.54 L176.85 329.65 L178.04 318.84 L179.22 308.16 L180.41 297.62 L181.60 287.27 L182.79 277.11 L183.98 267.17 L185.17 257.48 L186.36 248.04 L187.54 238.87 L188.73 229.98 L189.92 221.38 L191.11 213.08 L192.30 205.08 L193.49 197.39 L194.67 190.00 L195.86 182.93 L197.05 176.17 L198.24 169.72 L199.43 163.58 L200.62 157.74 L201.80 152.20 L202.99 146.95 L204.18 142.00 L205.37 137.34 L206.56 132.95 L207.75 128.84 L208.94 124.99 L210.12 121.41 L211.31 118.07 L212.50 114.98 L213.69 112.13 L214.88 109.52 L216.07 107.12 L217.25 104.94 L218.44 102.97 L219.63 101.20 L220.82 99.62 L222.01 98.23 L223.20 97.02 L224.39 95.99 L225.57 95.11 L226.76 94.40 L227.95 93.84 L229.14 93.43 L230.33 93.15 L231.52 93.01 L232.70 93.00 L233.89 93.11 L235.08 93.33 L236.27 93.66 L237.46 94.11 L238.65 94.65 L239.84 95.28 L241.02 96.01 L242.21 96.83 L243.40 97.72 L244.59 98.69 L245.78 99.74 L246.97 100.86 L248.15 102.04 L249.34 103.28 L250.53 104.58 L251.72 105.94 L252.91 107.35 L254.10 108.81 L255.29 110.31 L256.47 111.86 L257.66 113.45 L258.85 115.07 L260.04 116.73 L261.23 118.42 L262.42 120.15 L263.60 121.90 L264.79 123.67 L265.98 125.47 L267.17 127.30 L268.36 129.14 L269.55 131.00 L270.74 132.88 L271.92 134.77 L273.11 136.68 L274.30 138.60 L275.49 140.53 L276.68 142.47 L277.87 144.41 L279.05 146.37 L280.24 148.33 L281.43 150.30 L282.62 152.27 L283.81 154.24 L285.00 156.21 L286.18 158.19 L287.37 160.16 L288.56 162.14 L289.75 164.11 L290.94 166.08 L292.13 168.05 L293.32 170.02 L294.50 171.98 L295.69 173.94 L296.88 175.89 L298.07 177.84 L299.26 179.78 L300.45 181.71 L301.63 183.64 L302.82 185.56 L304.01 187.47 L305.20 189.37 L306.39 191.27 L307.58 193.16 L308.77 195.04 L309.95 196.90 L311.14 198.76 L312.33 200.61 L313.52 202.45 L314.71 204.28 L315.90 206.10 L317.08 207.91 L318.27 209.71 L319.46 211.50 L320.65 213.28 L321.84 215.04 L323.03 216.80 L324.22 218.54 L325.40 220.27 L326.59 221.99 L327.78 223.70 L328.97 225.40 L330.16 227.09 L331.35 228.76 L332.53 230.43 L333.72 232.08 L334.91 233.72 L336.10 235.35 L337.29 236.96 L338.48 238.57 L339.67 240.16 L340.85 241.74 L342.04 243.31 L343.23 244.87 L344.42 246.41 L345.61 247.95 L346.80 249.47 L347.98 250.98 L349.17 252.48 L350.36 253.97 L351.55 255.45 L352.74 256.91 L353.93 258.36 L355.12 259.81 L359.51 265.04 L363.90 270.12 L368.29 275.06 L372.68 279.84 L377.08 284.49 L381.47 289.00 L385.86 293.38 L390.25 297.63 L394.64 301.75 L399.04 305.75 L403.43 309.63 L407.82 313.39 L412.21 317.05 L416.61 320.60 L421.00 324.04 L425.39 327.39 L429.78 330.64 L434.17 333.79 L438.57 336.86 L442.96 339.83 L447.35 342.73 L451.74 345.54 L456.13 348.27 L460.53 350.93 L464.92 353.51 L469.31 356.02 L473.70 358.47 L478.09 360.85 L482.49 363.16 L486.88 365.41 L491.27 367.60 L495.66 369.74 L500.06 371.82 L504.45 373.84 L508.84 375.82 L513.23 377.74 L517.62 379.61 L522.02 381.44 L526.41 383.22 L530.80 384.95 L535.19 386.65 L539.59 388.30 L543.98 389.91 L548.37 391.48 L552.76 393.02 L557.15 394.51 L561.55 395.98 L565.94 397.40 L570.33 398.80 L574.72 400.16 L579.11 401.49 L583.51 402.79 L587.90 404.06 L592.29 405.31 L596.68 406.52 L601.08 407.71 L605.47 408.87 L609.86 410.01 L614.25 411.12 L618.64 412.20 L623.04 413.27 L627.43 414.31 L631.82 415.33 L636.21 416.32 L640.60 417.30 L645.00 418.26 L649.39 419.19 L653.78 420.11 L658.17 421.01 L662.57 421.89 L666.96 422.75 L671.35 423.60 L675.74 424.43 L680.13 425.24 L684.53 426.04 L688.92 426.82 L693.31 427.58 L697.70 428.34 L702.09 429.07 L706.49 429.80 L710.88 430.50 L715.27 431.20 L719.66 431.88 L724.05 432.55 L728.45 433.21 L732.84 433.86 L737.23 434.49 L741.62 435.11 L746.02 435.72 L750.41 436.32 L754.80 436.91 L759.19 437.49 L763.58 438.06 L767.98 438.62 L772.37 439.17 L776.76 439.71 L781.15 440.24 L785.54 440.76 L789.94 441.28 L794.33 441.78 L798.72 442.27 L803.11 442.76 L807.51 443.24 L811.90 443.71 L816.29 444.18 L820.68 444.63 L825.07 445.08 L829.47 445.52 L833.86 445.95 L838.25 446.38 L842.64 446.80 L847.03 447.21 L851.43 447.62 L855.82 448.02 L860.21 448.42 L864.60 448.81 L869.00 449.19 L873.39 449.56 L877.78 449.93" stroke="#e3622b"/><path d="M166.15 425.05 L167.34 415.05 L168.53 404.71 L169.72 394.09 L170.91 383.24 L172.09 372.24 L173.28 361.13 L174.47 349.97 L175.66 338.80 L176.85 327.66 L178.04 316.60 L179.22 305.65 L180.41 294.84 L181.60 284.21 L182.79 273.76 L183.98 263.54 L185.17 253.55 L186.36 243.83 L187.54 234.37 L188.73 225.19 L189.92 216.31 L191.11 207.74 L192.30 199.47 L193.49 191.51 L194.67 183.88 L195.86 176.56 L197.05 169.56 L198.24 162.88 L199.43 156.51 L200.62 150.46 L201.80 144.72 L202.99 139.29 L204.18 134.16 L205.37 129.33 L206.56 124.78 L207.75 120.52 L208.94 116.53 L210.12 112.82 L211.31 109.37 L212.50 106.17 L213.69 103.23 L214.88 100.52 L216.07 98.04 L217.25 95.79 L218.44 93.76 L219.63 91.94 L220.82 90.32 L222.01 88.89 L223.20 87.65 L224.39 86.59 L225.57 85.71 L226.76 84.98 L227.95 84.42 L229.14 84.01 L230.33 83.75 L231.52 83.62 L232.70 83.63 L233.89 83.76 L235.08 84.02 L236.27 84.39 L237.46 84.87 L238.65 85.45 L239.84 86.14 L241.02 86.91 L242.21 87.78 L243.40 88.73 L244.59 89.77 L245.78 90.88 L246.97 92.06 L248.15 93.31 L249.34 94.62 L250.53 95.99 L251.72 97.42 L252.91 98.91 L254.10 100.44 L255.29 102.02 L256.47 103.65 L257.66 105.31 L258.85 107.02 L260.04 108.76 L261.23 110.53 L262.42 112.34 L263.60 114.17 L264.79 116.03 L265.98 117.92 L267.17 119.82 L268.36 121.75 L269.55 123.70 L270.74 125.66 L271.92 127.64 L273.11 129.63 L274.30 131.63 L275.49 133.64 L276.68 135.67 L277.87 137.70 L279.05 139.74 L280.24 141.78 L281.43 143.83 L282.62 145.88 L283.81 147.93 L285.00 149.99 L286.18 152.04 L287.37 154.10 L288.56 156.15 L289.75 158.20 L290.94 160.25 L292.13 162.30 L293.32 164.34 L294.50 166.38 L295.69 168.41 L296.88 170.43 L298.07 172.45 L299.26 174.47 L300.45 176.47 L301.63 178.47 L302.82 180.46 L304.01 182.44 L305.20 184.42 L306.39 186.38 L307.58 188.33 L308.77 190.28 L309.95 192.21 L311.14 194.14 L312.33 196.05 L313.52 197.95 L314.71 199.85 L315.90 201.73 L317.08 203.60 L318.27 205.45 L319.46 207.30 L320.65 209.14 L321.84 210.96 L323.03 212.77 L324.22 214.57 L325.40 216.36 L326.59 218.13 L327.78 219.90 L328.97 221.65 L330.16 223.39 L331.35 225.11 L332.53 226.83 L333.72 228.53 L334.91 230.22 L336.10 231.89 L337.29 233.56 L338.48 235.21 L339.67 236.85 L340.85 238.47 L342.04 240.09 L343.23 241.69 L344.42 243.28 L345.61 244.86 L346.80 246.42 L347.98 247.98 L349.17 249.52 L350.36 251.05 L351.55 252.56 L352.74 254.07 L353.93 255.56 L355.12 257.04 L359.51 262.41 L363.90 267.62 L368.29 272.68 L372.68 277.58 L377.08 282.34 L381.47 286.96 L385.86 291.43 L390.25 295.77 L394.64 299.98 L399.04 304.06 L403.43 308.02 L407.82 311.87 L412.21 315.59 L416.61 319.21 L421.00 322.72 L425.39 326.12 L429.78 329.43 L434.17 332.64 L438.57 335.75 L442.96 338.78 L447.35 341.72 L451.74 344.57 L456.13 347.35 L460.53 350.04 L464.92 352.66 L469.31 355.21 L473.70 357.69 L478.09 360.10 L482.49 362.45 L486.88 364.73 L491.27 366.95 L495.66 369.11 L500.06 371.21 L504.45 373.26 L508.84 375.26 L513.23 377.20 L517.62 379.09 L522.02 380.94 L526.41 382.74 L530.80 384.49 L535.19 386.20 L539.59 387.87 L543.98 389.50 L548.37 391.09 L552.76 392.64 L557.15 394.15 L561.55 395.62 L565.94 397.06 L570.33 398.47 L574.72 399.84 L579.11 401.19 L583.51 402.50 L587.90 403.78 L592.29 405.03 L596.68 406.26 L601.08 407.45 L605.47 408.62 L609.86 409.77 L614.25 410.89 L618.64 411.98 L623.04 413.05 L627.43 414.10 L631.82 415.13 L636.21 416.13 L640.60 417.11 L645.00 418.08 L649.39 419.02 L653.78 419.94 L658.17 420.85 L662.57 421.73 L666.96 422.60 L671.35 423.45 L675.74 424.28 L680.13 425.10 L684.53 425.90 L688.92 426.69 L693.31 427.46 L697.70 428.21 L702.09 428.95 L706.49 429.68 L710.88 430.39 L715.27 431.09 L719.66 431.77 L724.05 432.45 L728.45 433.11 L732.84 433.76 L737.23 434.39 L741.62 435.02 L746.02 435.63 L750.41 436.24 L754.80 436.83 L759.19 437.41 L763.58 437.98 L767.98 438.54 L772.37 439.09 L776.76 439.64 L781.15 440.17 L785.54 440.69 L789.94 441.21 L794.33 441.71 L798.72 442.21 L803.11 442.70 L807.51 443.18 L811.90 443.65 L816.29 444.12 L820.68 444.57 L825.07 445.02 L829.47 445.47 L833.86 445.90 L838.25 446.33 L842.64 446.75 L847.03 447.17 L851.43 447.57 L855.82 447.98 L860.21 448.37 L864.60 448.76 L869.00 449.14 L873.39 449.52 L877.78 449.89" stroke="#df4226"/><path d="M166.15 424.70 L167.34 414.59 L168.53 404.11 L169.72 393.32 L170.91 382.30 L172.09 371.10 L173.28 359.77 L174.47 348.38 L175.66 336.96 L176.85 325.57 L178.04 314.23 L179.22 303.00 L180.41 291.90 L181.60 280.96 L182.79 270.22 L183.98 259.69 L185.17 249.40 L186.36 239.36 L187.54 229.60 L188.73 220.12 L189.92 210.94 L191.11 202.07 L192.30 193.52 L193.49 185.28 L194.67 177.37 L195.86 169.79 L197.05 162.53 L198.24 155.61 L199.43 149.01 L200.62 142.74 L201.80 136.78 L202.99 131.15 L204.18 125.83 L205.37 120.81 L206.56 116.10 L207.75 111.68 L208.94 107.55 L210.12 103.70 L211.31 100.12 L212.50 96.81 L213.69 93.76 L214.88 90.96 L216.07 88.40 L217.25 86.07 L218.44 83.98 L219.63 82.10 L220.82 80.43 L222.01 78.96 L223.20 77.69 L224.39 76.61 L225.57 75.71 L226.76 74.98 L227.95 74.42 L229.14 74.01 L230.33 73.76 L231.52 73.65 L232.70 73.68 L233.89 73.84 L235.08 74.13 L236.27 74.54 L237.46 75.06 L238.65 75.69 L239.84 76.43 L241.02 77.26 L242.21 78.18 L243.40 79.20 L244.59 80.30 L245.78 81.47 L246.97 82.72 L248.15 84.04 L249.34 85.43 L250.53 86.88 L251.72 88.39 L252.91 89.95 L254.10 91.57 L255.29 93.23 L256.47 94.94 L257.66 96.69 L258.85 98.48 L260.04 100.31 L261.23 102.17 L262.42 104.07 L263.60 105.99 L264.79 107.94 L265.98 109.91 L267.17 111.91 L268.36 113.93 L269.55 115.96 L270.74 118.02 L271.92 120.08 L273.11 122.17 L274.30 124.26 L275.49 126.36 L276.68 128.48 L277.87 130.60 L279.05 132.72 L280.24 134.85 L281.43 136.99 L282.62 139.13 L283.81 141.27 L285.00 143.41 L286.18 145.55 L287.37 147.69 L288.56 149.83 L289.75 151.96 L290.94 154.09 L292.13 156.22 L293.32 158.34 L294.50 160.46 L295.69 162.57 L296.88 164.68 L298.07 166.77 L299.26 168.86 L300.45 170.95 L301.63 173.02 L302.82 175.08 L304.01 177.14 L305.20 179.18 L306.39 181.22 L307.58 183.25 L308.77 185.26 L309.95 187.26 L311.14 189.26 L312.33 191.24 L313.52 193.21 L314.71 195.17 L315.90 197.11 L317.08 199.05 L318.27 200.97 L319.46 202.88 L320.65 204.77 L321.84 206.66 L323.03 208.53 L324.22 210.39 L325.40 212.23 L326.59 214.07 L327.78 215.89 L328.97 217.69 L330.16 219.49 L331.35 221.27 L332.53 223.04 L333.72 224.79 L334.91 226.53 L336.10 228.26 L337.29 229.97 L338.48 231.67 L339.67 233.36 L340.85 235.04 L342.04 236.70 L343.23 238.35 L344.42 239.99 L345.61 241.61 L346.80 243.22 L347.98 244.82 L349.17 246.40 L350.36 247.97 L351.55 249.53 L352.74 251.08 L353.93 252.61 L355.12 254.14 L359.51 259.65 L363.90 265.00 L368.29 270.18 L372.68 275.21 L377.08 280.09 L381.47 284.81 L385.86 289.39 L390.25 293.83 L394.64 298.13 L399.04 302.30 L403.43 306.34 L407.82 310.26 L412.21 314.06 L416.61 317.75 L421.00 321.32 L425.39 324.79 L429.78 328.16 L434.17 331.42 L438.57 334.59 L442.96 337.67 L447.35 340.66 L451.74 343.56 L456.13 346.38 L460.53 349.12 L464.92 351.78 L469.31 354.36 L473.70 356.88 L478.09 359.32 L482.49 361.70 L486.88 364.01 L491.27 366.26 L495.66 368.45 L500.06 370.58 L504.45 372.65 L508.84 374.67 L513.23 376.64 L517.62 378.56 L522.02 380.42 L526.41 382.24 L530.80 384.01 L535.19 385.74 L539.59 387.43 L543.98 389.07 L548.37 390.67 L552.76 392.24 L557.15 393.77 L561.55 395.25 L565.94 396.71 L570.33 398.13 L574.72 399.51 L579.11 400.87 L583.51 402.19 L587.90 403.48 L592.29 404.75 L596.68 405.98 L601.08 407.19 L605.47 408.36 L609.86 409.52 L614.25 410.65 L618.64 411.75 L623.04 412.83 L627.43 413.88 L631.82 414.92 L636.21 415.93 L640.60 416.92 L645.00 417.88 L649.39 418.83 L653.78 419.76 L658.17 420.67 L662.57 421.56 L666.96 422.44 L671.35 423.29 L675.74 424.13 L680.13 424.95 L684.53 425.76 L688.92 426.55 L693.31 427.32 L697.70 428.08 L702.09 428.82 L706.49 429.55 L710.88 430.27 L715.27 430.97 L719.66 431.66 L724.05 432.34 L728.45 433.00 L732.84 433.65 L737.23 434.29 L741.62 434.92 L746.02 435.54 L750.41 436.14 L754.80 436.74 L759.19 437.32 L763.58 437.90 L767.98 438.46 L772.37 439.01 L776.76 439.56 L781.15 440.09 L785.54 440.62 L789.94 441.13 L794.33 441.64 L798.72 442.14 L803.11 442.63 L807.51 443.11 L811.90 443.59 L816.29 444.05 L820.68 444.51 L825.07 444.96 L829.47 445.41 L833.86 445.85 L838.25 446.28 L842.64 446.70 L847.03 447.11 L851.43 447.52 L855.82 447.93 L860.21 448.32 L864.60 448.71 L869.00 449.10 L873.39 449.48 L877.78 449.85" stroke="#db2122"/></g>
<defs><linearGradient id="cb" x1="0" y1="0" x2="0" y2="1"><stop offset="0.000" stop-color="#db2122"/><stop offset="0.050" stop-color="#df4026"/><stop offset="0.100" stop-color="#e25f2a"/><stop offset="0.150" stop-color="#e47a2f"/><stop offset="0.200" stop-color="#e69634"/><stop offset="0.250" stop-color="#dca539"/><stop offset="0.300" stop-color="#d2b43e"/><stop offset="0.350" stop-color="#bfb948"/><stop offset="0.400" stop-color="#acbe51"/><stop offset="0.450" stop-color="#97bc61"/><stop offset="0.500" stop-color="#83ba70"/><stop offset="0.550" stop-color="#72b385"/><stop offset="0.600" stop-color="#61ac9a"/><stop offset="0.650" stop-color="#579eac"/><stop offset="0.700" stop-color="#4d90bf"/><stop offset="0.750" stop-color="#4679c7"/><stop offset="0.800" stop-color="#4061cf"/><stop offset="0.850" stop-color="#4348c4"/><stop offset="0.900" stop-color="#462eb9"/><stop offset="0.950" stop-color="#5f25a0"/><stop offset="1.000" stop-color="#781c86"/></linearGradient></defs>
<rect x="804.2" y="94.2" width="22.40" height="338.60" fill="url(#cb)" stroke="#000" stroke-opacity="0.28" stroke-width="0.7"/>
<g stroke="#cfcfcf" stroke-width="0.8"><line x1="826.6" y1="432.78" x2="830.6" y2="432.78"/><line x1="826.6" y1="414.96" x2="830.6" y2="414.96"/><line x1="826.6" y1="397.14" x2="830.6" y2="397.14"/><line x1="826.6" y1="379.32" x2="830.6" y2="379.32"/><line x1="826.6" y1="361.50" x2="833.8" y2="361.50"/><line x1="826.6" y1="343.68" x2="830.6" y2="343.68"/><line x1="826.6" y1="325.86" x2="830.6" y2="325.86"/><line x1="826.6" y1="308.04" x2="830.6" y2="308.04"/><line x1="826.6" y1="290.22" x2="830.6" y2="290.22"/><line x1="826.6" y1="272.40" x2="833.8" y2="272.40"/><line x1="826.6" y1="254.58" x2="830.6" y2="254.58"/><line x1="826.6" y1="236.76" x2="830.6" y2="236.76"/><line x1="826.6" y1="218.94" x2="830.6" y2="218.94"/><line x1="826.6" y1="201.12" x2="830.6" y2="201.12"/><line x1="826.6" y1="183.30" x2="833.8" y2="183.30"/><line x1="826.6" y1="165.48" x2="830.6" y2="165.48"/><line x1="826.6" y1="147.66" x2="830.6" y2="147.66"/><line x1="826.6" y1="129.84" x2="830.6" y2="129.84"/><line x1="826.6" y1="112.02" x2="830.6" y2="112.02"/><line x1="826.6" y1="94.20" x2="833.8" y2="94.20"/></g>
<text transform="translate(838.5,100.55) rotate(0.04)" font-size="17.6" fill="#636363" class="r">2.0</text>
<text transform="translate(838.5,189.65) rotate(0.04)" font-size="17.6" fill="#636363" class="r">1.5</text>
<text transform="translate(838.5,278.75) rotate(0.04)" font-size="17.6" fill="#636363" class="r">1.0</text>
<text transform="translate(838.5,367.85) rotate(0.04)" font-size="17.6" fill="#636363" class="r">0.5</text>
<g stroke="#000" stroke-width="1.1" fill="none"><line x1="154.09" y1="508.5" x2="154.09" y2="504.1"/><line x1="154.09" y1="50.6" x2="154.09" y2="55.0"/><line x1="194.30" y1="508.5" x2="194.30" y2="504.1"/><line x1="194.30" y1="50.6" x2="194.30" y2="55.0"/><line x1="234.50" y1="508.5" x2="234.50" y2="501.8"/><line x1="234.50" y1="50.6" x2="234.50" y2="57.300000000000004"/><line x1="274.70" y1="508.5" x2="274.70" y2="504.1"/><line x1="274.70" y1="50.6" x2="274.70" y2="55.0"/><line x1="314.91" y1="508.5" x2="314.91" y2="504.1"/><line x1="314.91" y1="50.6" x2="314.91" y2="55.0"/><line x1="355.12" y1="508.5" x2="355.12" y2="504.1"/><line x1="355.12" y1="50.6" x2="355.12" y2="55.0"/><line x1="395.32" y1="508.5" x2="395.32" y2="501.8"/><line x1="395.32" y1="50.6" x2="395.32" y2="57.300000000000004"/><line x1="435.52" y1="508.5" x2="435.52" y2="504.1"/><line x1="435.52" y1="50.6" x2="435.52" y2="55.0"/><line x1="475.73" y1="508.5" x2="475.73" y2="504.1"/><line x1="475.73" y1="50.6" x2="475.73" y2="55.0"/><line x1="515.93" y1="508.5" x2="515.93" y2="504.1"/><line x1="515.93" y1="50.6" x2="515.93" y2="55.0"/><line x1="556.14" y1="508.5" x2="556.14" y2="501.8"/><line x1="556.14" y1="50.6" x2="556.14" y2="57.300000000000004"/><line x1="596.35" y1="508.5" x2="596.35" y2="504.1"/><line x1="596.35" y1="50.6" x2="596.35" y2="55.0"/><line x1="636.55" y1="508.5" x2="636.55" y2="504.1"/><line x1="636.55" y1="50.6" x2="636.55" y2="55.0"/><line x1="676.75" y1="508.5" x2="676.75" y2="504.1"/><line x1="676.75" y1="50.6" x2="676.75" y2="55.0"/><line x1="716.96" y1="508.5" x2="716.96" y2="501.8"/><line x1="716.96" y1="50.6" x2="716.96" y2="57.300000000000004"/><line x1="757.16" y1="508.5" x2="757.16" y2="504.1"/><line x1="757.16" y1="50.6" x2="757.16" y2="55.0"/><line x1="797.37" y1="508.5" x2="797.37" y2="504.1"/><line x1="797.37" y1="50.6" x2="797.37" y2="55.0"/><line x1="837.57" y1="508.5" x2="837.57" y2="504.1"/><line x1="837.57" y1="50.6" x2="837.57" y2="55.0"/><line x1="877.78" y1="508.5" x2="877.78" y2="501.8"/><line x1="877.78" y1="50.6" x2="877.78" y2="57.300000000000004"/><line x1="151.5" y1="505.85" x2="155.9" y2="505.85"/><line x1="892.5" y1="505.85" x2="888.1" y2="505.85"/><line x1="151.5" y1="485.77" x2="158.0" y2="485.77"/><line x1="892.5" y1="485.77" x2="886.0" y2="485.77"/><line x1="151.5" y1="465.69" x2="155.9" y2="465.69"/><line x1="892.5" y1="465.69" x2="888.1" y2="465.69"/><line x1="151.5" y1="445.61" x2="155.9" y2="445.61"/><line x1="892.5" y1="445.61" x2="888.1" y2="445.61"/><line x1="151.5" y1="425.53" x2="155.9" y2="425.53"/><line x1="892.5" y1="425.53" x2="888.1" y2="425.53"/><line x1="151.5" y1="405.45" x2="155.9" y2="405.45"/><line x1="892.5" y1="405.45" x2="888.1" y2="405.45"/><line x1="151.5" y1="385.37" x2="158.0" y2="385.37"/><line x1="892.5" y1="385.37" x2="886.0" y2="385.37"/><line x1="151.5" y1="365.29" x2="155.9" y2="365.29"/><line x1="892.5" y1="365.29" x2="888.1" y2="365.29"/><line x1="151.5" y1="345.21" x2="155.9" y2="345.21"/><line x1="892.5" y1="345.21" x2="888.1" y2="345.21"/><line x1="151.5" y1="325.13" x2="155.9" y2="325.13"/><line x1="892.5" y1="325.13" x2="888.1" y2="325.13"/><line x1="151.5" y1="305.05" x2="155.9" y2="305.05"/><line x1="892.5" y1="305.05" x2="888.1" y2="305.05"/><line x1="151.5" y1="284.97" x2="158.0" y2="284.97"/><line x1="892.5" y1="284.97" x2="886.0" y2="284.97"/><line x1="151.5" y1="264.89" x2="155.9" y2="264.89"/><line x1="892.5" y1="264.89" x2="888.1" y2="264.89"/><line x1="151.5" y1="244.81" x2="155.9" y2="244.81"/><line x1="892.5" y1="244.81" x2="888.1" y2="244.81"/><line x1="151.5" y1="224.73" x2="155.9" y2="224.73"/><line x1="892.5" y1="224.73" x2="888.1" y2="224.73"/><line x1="151.5" y1="204.65" x2="155.9" y2="204.65"/><line x1="892.5" y1="204.65" x2="888.1" y2="204.65"/><line x1="151.5" y1="184.57" x2="158.0" y2="184.57"/><line x1="892.5" y1="184.57" x2="886.0" y2="184.57"/><line x1="151.5" y1="164.49" x2="155.9" y2="164.49"/><line x1="892.5" y1="164.49" x2="888.1" y2="164.49"/><line x1="151.5" y1="144.41" x2="155.9" y2="144.41"/><line x1="892.5" y1="144.41" x2="888.1" y2="144.41"/><line x1="151.5" y1="124.33" x2="155.9" y2="124.33"/><line x1="892.5" y1="124.33" x2="888.1" y2="124.33"/><line x1="151.5" y1="104.25" x2="155.9" y2="104.25"/><line x1="892.5" y1="104.25" x2="888.1" y2="104.25"/><line x1="151.5" y1="84.17" x2="158.0" y2="84.17"/><line x1="892.5" y1="84.17" x2="886.0" y2="84.17"/><line x1="151.5" y1="64.09" x2="155.9" y2="64.09"/><line x1="892.5" y1="64.09" x2="888.1" y2="64.09"/><rect x="151.5" y="50.6" width="741.00" height="457.90"/></g>
<text transform="translate(234.50,539.2) rotate(0.04)" font-size="28.5" text-anchor="middle" class="b">2</text>
<text transform="translate(395.32,539.2) rotate(0.04)" font-size="28.5" text-anchor="middle" class="b">4</text>
<text transform="translate(556.14,539.2) rotate(0.04)" font-size="28.5" text-anchor="middle" class="b">6</text>
<text transform="translate(716.96,539.2) rotate(0.04)" font-size="28.5" text-anchor="middle" class="b">8</text>
<text transform="translate(877.78,539.2) rotate(0.04)" font-size="28.5" text-anchor="middle" class="b">10</text>
<text transform="translate(146.4,495.72) rotate(0.04)" font-size="28.5" text-anchor="end" class="b">0.00</text>
<text transform="translate(146.4,395.32) rotate(0.04)" font-size="28.5" text-anchor="end" class="b">0.05</text>
<text transform="translate(146.4,294.92) rotate(0.04)" font-size="28.5" text-anchor="end" class="b">0.10</text>
<text transform="translate(146.4,194.52) rotate(0.04)" font-size="28.5" text-anchor="end" class="b">0.15</text>
<text transform="translate(146.4,94.12) rotate(0.04)" font-size="28.5" text-anchor="end" class="b">0.20</text>
<text transform="translate(522.15,583.5) rotate(0.04) scale(0.965,1)" font-size="27.7" text-anchor="middle" class="b">r/M</text>
<text transform="translate(73.3,312.4) rotate(-90)" font-size="27.4" class="bi">V<tspan font-size="20" dy="5" dx="-0.3">s</tspan><tspan dy="-5" dx="1.2">M</tspan><tspan font-size="19.3" dy="-11.8" dx="1.2">2</tspan></text>
<path d="M814.6 58.35 L823.2 58.4 Q817 61.9 813.9 65.0 Q810.6 68.4 812.2 70.2 Q813.2 71.2 816.5 71.35 Q819.4 71.5 818.9 73.1 Q818.2 75.0 813.5 76.2" fill="none" stroke="#000" stroke-width="2.2" stroke-linejoin="round" stroke-linecap="butt"/>
<text transform="translate(823.5,72.2) rotate(0.04)" font-size="21" class="b">/</text>
<text transform="translate(829.45,72.56) rotate(0.04) scale(0.955,1)" font-size="24.6" class="b">M</text>
</svg>
</body></html>
